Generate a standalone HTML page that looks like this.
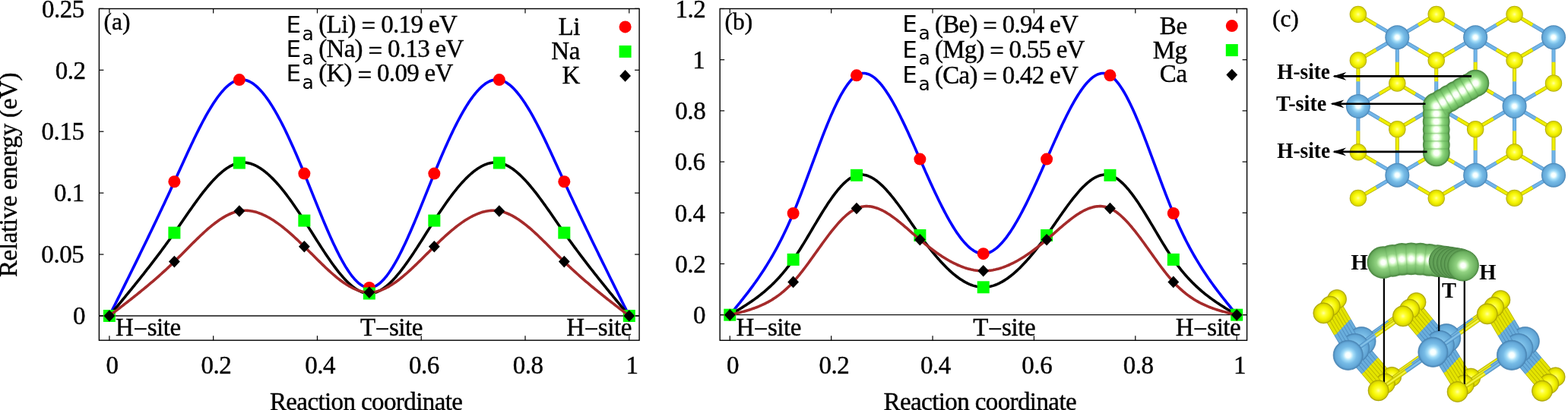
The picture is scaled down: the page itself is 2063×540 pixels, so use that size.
<!DOCTYPE html>
<html><head><meta charset="utf-8"><title>Energy barriers</title>
<style>html,body{margin:0;padding:0;background:#fff;overflow:hidden}svg{display:block}text{stroke:#000;stroke-width:0.4px}text[font-weight=bold],text[font-family*=DejaVu]{stroke-width:0}</style>
</head><body>
<svg width="2063" height="540" viewBox="0 0 2063 540">
<rect width="2063" height="540" fill="#fff"/>
<rect x="130.4" y="11.5" width="710.7" height="436.7" fill="none" stroke="#000" stroke-width="1.4"/>
<line x1="130.4" y1="416" x2="841.1" y2="416" stroke="#111" stroke-width="1.3"/>
<line x1="143.9" y1="448.2" x2="143.9" y2="442.2" stroke="#000" stroke-width="1.2"/>
<line x1="143.9" y1="11.5" x2="143.9" y2="17.5" stroke="#000" stroke-width="1.2"/>
<text x="147.6" y="491.6" font-size="33" font-family="'Liberation Serif', 'Times New Roman', serif" text-anchor="middle" letter-spacing="-0.45">0</text>
<line x1="280.68" y1="448.2" x2="280.68" y2="442.2" stroke="#000" stroke-width="1.2"/>
<line x1="280.68" y1="11.5" x2="280.68" y2="17.5" stroke="#000" stroke-width="1.2"/>
<text x="284.38" y="491.6" font-size="33" font-family="'Liberation Serif', 'Times New Roman', serif" text-anchor="middle" letter-spacing="-0.45">0.2</text>
<line x1="417.46" y1="448.2" x2="417.46" y2="442.2" stroke="#000" stroke-width="1.2"/>
<line x1="417.46" y1="11.5" x2="417.46" y2="17.5" stroke="#000" stroke-width="1.2"/>
<text x="421.16" y="491.6" font-size="33" font-family="'Liberation Serif', 'Times New Roman', serif" text-anchor="middle" letter-spacing="-0.45">0.4</text>
<line x1="554.24" y1="448.2" x2="554.24" y2="442.2" stroke="#000" stroke-width="1.2"/>
<line x1="554.24" y1="11.5" x2="554.24" y2="17.5" stroke="#000" stroke-width="1.2"/>
<text x="557.94" y="491.6" font-size="33" font-family="'Liberation Serif', 'Times New Roman', serif" text-anchor="middle" letter-spacing="-0.45">0.6</text>
<line x1="691.02" y1="448.2" x2="691.02" y2="442.2" stroke="#000" stroke-width="1.2"/>
<line x1="691.02" y1="11.5" x2="691.02" y2="17.5" stroke="#000" stroke-width="1.2"/>
<text x="694.72" y="491.6" font-size="33" font-family="'Liberation Serif', 'Times New Roman', serif" text-anchor="middle" letter-spacing="-0.45">0.8</text>
<line x1="827.8" y1="448.2" x2="827.8" y2="442.2" stroke="#000" stroke-width="1.2"/>
<line x1="827.8" y1="11.5" x2="827.8" y2="17.5" stroke="#000" stroke-width="1.2"/>
<text x="831.5" y="491.6" font-size="33" font-family="'Liberation Serif', 'Times New Roman', serif" text-anchor="middle" letter-spacing="-0.45">1</text>
<line x1="130.4" y1="416" x2="136.4" y2="416" stroke="#000" stroke-width="1.2"/>
<line x1="841.1" y1="416" x2="835.1" y2="416" stroke="#000" stroke-width="1.2"/>
<text x="112" y="427.2" font-size="33" font-family="'Liberation Serif', 'Times New Roman', serif" text-anchor="end" letter-spacing="-0.45">0</text>
<line x1="130.4" y1="335.07" x2="136.4" y2="335.07" stroke="#000" stroke-width="1.2"/>
<line x1="841.1" y1="335.07" x2="835.1" y2="335.07" stroke="#000" stroke-width="1.2"/>
<text x="110.3" y="346.27" font-size="33" font-family="'Liberation Serif', 'Times New Roman', serif" text-anchor="end" letter-spacing="-0.45">0.05</text>
<line x1="130.4" y1="254.15" x2="136.4" y2="254.15" stroke="#000" stroke-width="1.2"/>
<line x1="841.1" y1="254.15" x2="835.1" y2="254.15" stroke="#000" stroke-width="1.2"/>
<text x="110.8" y="265.35" font-size="33" font-family="'Liberation Serif', 'Times New Roman', serif" text-anchor="end" letter-spacing="-0.45">0.1</text>
<line x1="130.4" y1="173.23" x2="136.4" y2="173.23" stroke="#000" stroke-width="1.2"/>
<line x1="841.1" y1="173.23" x2="835.1" y2="173.23" stroke="#000" stroke-width="1.2"/>
<text x="110.5" y="184.43" font-size="33" font-family="'Liberation Serif', 'Times New Roman', serif" text-anchor="end" letter-spacing="-0.45">0.15</text>
<line x1="130.4" y1="92.3" x2="136.4" y2="92.3" stroke="#000" stroke-width="1.2"/>
<line x1="841.1" y1="92.3" x2="835.1" y2="92.3" stroke="#000" stroke-width="1.2"/>
<text x="112.6" y="103.5" font-size="33" font-family="'Liberation Serif', 'Times New Roman', serif" text-anchor="end" letter-spacing="-0.45">0.2</text>
<line x1="130.4" y1="11.38" x2="136.4" y2="11.38" stroke="#000" stroke-width="1.2"/>
<line x1="841.1" y1="11.38" x2="835.1" y2="11.38" stroke="#000" stroke-width="1.2"/>
<text x="110.9" y="22.57" font-size="33" font-family="'Liberation Serif', 'Times New Roman', serif" text-anchor="end" letter-spacing="-0.45">0.25</text>
<text x="152.1" y="441.8" font-size="33" font-family="'Liberation Serif', 'Times New Roman', serif" letter-spacing="-0.45">H<tspan dy="1.8">−</tspan><tspan dy="-1.8">site</tspan></text>
<text x="474" y="441.8" font-size="33" font-family="'Liberation Serif', 'Times New Roman', serif" letter-spacing="-0.45">T<tspan dy="1.8">−</tspan><tspan dy="-1.8">site</tspan></text>
<text x="745.3" y="441.8" font-size="33" font-family="'Liberation Serif', 'Times New Roman', serif" letter-spacing="-0.45">H<tspan dy="1.8">−</tspan><tspan dy="-1.8">site</tspan></text>
<text x="136.6" y="38.6" font-size="31.5" font-family="'Liberation Serif', 'Times New Roman', serif">(a)</text>
<text x="376.5" y="42.9" font-size="31" font-family="'DejaVu Sans', 'Liberation Sans', sans-serif">E</text>
<text x="397.6" y="52.7" font-size="25" font-family="'DejaVu Sans', 'Liberation Sans', sans-serif">a</text>
<text x="419.15" y="43.2" font-size="33" font-family="'Liberation Serif', 'Times New Roman', serif" textLength="182.65" lengthAdjust="spacing">(Li) <tspan dy="2.2">=</tspan><tspan dy="-2.2"> </tspan>0.19 eV</text>
<text x="376.5" y="75.1" font-size="31" font-family="'DejaVu Sans', 'Liberation Sans', sans-serif">E</text>
<text x="397.6" y="84.9" font-size="25" font-family="'DejaVu Sans', 'Liberation Sans', sans-serif">a</text>
<text x="419.15" y="75.4" font-size="33" font-family="'Liberation Serif', 'Times New Roman', serif" textLength="191.25" lengthAdjust="spacing">(Na) <tspan dy="2.2">=</tspan><tspan dy="-2.2"> </tspan>0.13 eV</text>
<text x="376.5" y="107.1" font-size="31" font-family="'DejaVu Sans', 'Liberation Sans', sans-serif">E</text>
<text x="397.6" y="116.9" font-size="25" font-family="'DejaVu Sans', 'Liberation Sans', sans-serif">a</text>
<text x="419.15" y="107.4" font-size="33" font-family="'Liberation Serif', 'Times New Roman', serif" textLength="177.25" lengthAdjust="spacing">(K) <tspan dy="2.2">=</tspan><tspan dy="-2.2"> </tspan>0.09 eV</text>
<text x="762.9" y="45.7" font-size="33" font-family="'Liberation Serif', 'Times New Roman', serif" text-anchor="end" letter-spacing="-0.45">Li</text>
<text x="762.9" y="77.9" font-size="33" font-family="'Liberation Serif', 'Times New Roman', serif" text-anchor="end" letter-spacing="-0.45">Na</text>
<text x="762.9" y="109.9" font-size="33" font-family="'Liberation Serif', 'Times New Roman', serif" text-anchor="end" letter-spacing="-0.45">K</text>
<polyline points="143.9,416 145.61,412.56 147.33,409.12 149.04,405.67 150.76,402.23 152.47,398.79 154.18,395.34 155.9,391.89 157.61,388.44 159.33,384.99 161.04,381.54 162.75,378.09 164.47,374.63 166.18,371.17 167.9,367.7 169.61,364.23 171.32,360.76 173.04,357.29 174.75,353.81 176.47,350.33 178.18,346.84 179.89,343.34 181.61,339.84 183.32,336.34 185.04,332.83 186.75,329.32 188.46,325.79 190.18,322.27 191.89,318.73 193.61,315.19 195.32,311.64 197.04,308.08 198.75,304.52 200.46,300.95 202.18,297.37 203.89,293.78 205.61,290.18 207.32,286.58 209.03,282.96 210.75,279.34 212.46,275.71 214.18,272.06 215.89,268.41 217.6,264.75 219.32,261.07 221.03,257.39 222.75,253.69 224.46,249.98 226.17,246.26 227.89,242.53 229.6,238.79 231.32,235.04 233.03,231.27 234.74,227.51 236.46,223.74 238.17,219.97 239.89,216.2 241.6,212.45 243.31,208.7 245.03,204.97 246.74,201.26 248.46,197.57 250.17,193.9 251.88,190.26 253.6,186.65 255.31,183.07 257.03,179.54 258.74,176.04 260.45,172.59 262.17,169.18 263.88,165.83 265.6,162.53 267.31,159.28 269.02,156.1 270.74,152.98 272.45,149.93 274.17,146.95 275.88,144.04 277.59,141.21 279.31,138.45 281.02,135.79 282.74,133.21 284.45,130.71 286.16,128.32 287.88,126.02 289.59,123.81 291.31,121.72 293.02,119.73 294.74,117.84 296.45,116.07 298.16,114.42 299.88,112.89 301.59,111.48 303.31,110.2 305.02,109.04 306.73,108.02 308.45,107.14 310.16,106.39 311.88,105.79 313.59,105.33 315.3,105.02 317.02,104.87 318.73,104.86 320.45,104.99 322.16,105.28 323.87,105.7 325.59,106.26 327.3,106.96 329.02,107.79 330.73,108.75 332.44,109.84 334.16,111.05 335.87,112.39 337.59,113.85 339.3,115.43 341.01,117.13 342.73,118.94 344.44,120.86 346.16,122.88 347.87,125.02 349.58,127.26 351.3,129.6 353.01,132.03 354.73,134.57 356.44,137.19 358.15,139.91 359.87,142.72 361.58,145.61 363.3,148.59 365.01,151.65 366.72,154.78 368.44,157.99 370.15,161.28 371.87,164.64 373.58,168.06 375.29,171.55 377.01,175.11 378.72,178.72 380.44,182.4 382.15,186.13 383.86,189.91 385.58,193.75 387.29,197.63 389.01,201.56 390.72,205.53 392.44,209.55 394.15,213.6 395.86,217.69 397.58,221.81 399.29,225.97 401.01,230.15 402.72,234.36 404.43,238.58 406.15,242.83 407.86,247.09 409.58,251.35 411.29,255.62 413,259.88 414.72,264.14 416.43,268.39 418.15,272.63 419.86,276.84 421.57,281.04 423.29,285.2 425,289.33 426.72,293.43 428.43,297.48 430.14,301.49 431.86,305.44 433.57,309.35 435.29,313.19 437,316.97 438.71,320.68 440.43,324.32 442.14,327.88 443.86,331.36 445.57,334.76 447.28,338.06 449,341.27 450.71,344.38 452.43,347.39 454.14,350.29 455.85,353.08 457.57,355.75 459.28,358.29 461,360.71 462.71,363.01 464.42,365.16 466.14,367.18 467.85,369.05 469.57,370.78 471.28,372.35 472.99,373.77 474.71,375.02 476.42,376.11 478.14,377.03 479.85,377.77 481.56,378.34 483.28,378.72 484.99,378.91 486.71,378.91 488.42,378.72 490.14,378.34 491.85,377.77 493.56,377.03 495.28,376.11 496.99,375.02 498.71,373.77 500.42,372.35 502.13,370.78 503.85,369.05 505.56,367.18 507.28,365.16 508.99,363.01 510.7,360.71 512.42,358.29 514.13,355.75 515.85,353.08 517.56,350.29 519.27,347.39 520.99,344.38 522.7,341.27 524.42,338.06 526.13,334.76 527.84,331.36 529.56,327.88 531.27,324.32 532.99,320.68 534.7,316.97 536.41,313.19 538.13,309.35 539.84,305.44 541.56,301.49 543.27,297.48 544.98,293.43 546.7,289.33 548.41,285.2 550.13,281.04 551.84,276.84 553.55,272.63 555.27,268.39 556.98,264.14 558.7,259.88 560.41,255.62 562.12,251.35 563.84,247.09 565.55,242.83 567.27,238.58 568.98,234.36 570.69,230.15 572.41,225.97 574.12,221.81 575.84,217.69 577.55,213.6 579.26,209.55 580.98,205.53 582.69,201.56 584.41,197.63 586.12,193.75 587.84,189.91 589.55,186.13 591.26,182.4 592.98,178.72 594.69,175.11 596.41,171.55 598.12,168.06 599.83,164.64 601.55,161.28 603.26,157.99 604.98,154.78 606.69,151.65 608.4,148.59 610.12,145.61 611.83,142.72 613.55,139.91 615.26,137.19 616.97,134.57 618.69,132.03 620.4,129.6 622.12,127.26 623.83,125.02 625.54,122.88 627.26,120.86 628.97,118.94 630.69,117.13 632.4,115.43 634.11,113.85 635.83,112.39 637.54,111.05 639.26,109.84 640.97,108.75 642.68,107.79 644.4,106.96 646.11,106.26 647.83,105.7 649.54,105.28 651.25,104.99 652.97,104.86 654.68,104.87 656.4,105.02 658.11,105.33 659.82,105.79 661.54,106.39 663.25,107.14 664.97,108.02 666.68,109.04 668.39,110.2 670.11,111.48 671.82,112.89 673.54,114.42 675.25,116.07 676.96,117.84 678.68,119.73 680.39,121.72 682.11,123.81 683.82,126.02 685.54,128.32 687.25,130.71 688.96,133.21 690.68,135.79 692.39,138.45 694.11,141.21 695.82,144.04 697.53,146.95 699.25,149.93 700.96,152.98 702.68,156.1 704.39,159.28 706.1,162.53 707.82,165.83 709.53,169.18 711.25,172.59 712.96,176.04 714.67,179.54 716.39,183.07 718.1,186.65 719.82,190.26 721.53,193.9 723.24,197.57 724.96,201.26 726.67,204.97 728.39,208.7 730.1,212.45 731.81,216.2 733.53,219.97 735.24,223.74 736.96,227.51 738.67,231.27 740.38,235.04 742.1,238.79 743.81,242.53 745.53,246.26 747.24,249.98 748.95,253.69 750.67,257.39 752.38,261.07 754.1,264.75 755.81,268.41 757.52,272.06 759.24,275.71 760.95,279.34 762.67,282.96 764.38,286.58 766.09,290.18 767.81,293.78 769.52,297.37 771.24,300.95 772.95,304.52 774.66,308.08 776.38,311.64 778.09,315.19 779.81,318.73 781.52,322.27 783.24,325.79 784.95,329.32 786.66,332.83 788.38,336.34 790.09,339.84 791.81,343.34 793.52,346.84 795.23,350.33 796.95,353.81 798.66,357.29 800.38,360.76 802.09,364.23 803.8,367.7 805.52,371.17 807.23,374.63 808.95,378.09 810.66,381.54 812.37,384.99 814.09,388.44 815.8,391.89 817.52,395.34 819.23,398.79 820.94,402.23 822.66,405.67 824.37,409.12 826.09,412.56 827.8,416" fill="none" stroke="#0000ff" stroke-width="3.6" stroke-linejoin="round" stroke-linecap="round"/>
<circle cx="143.9" cy="416" r="8" fill="#ff0000"/>
<circle cx="229.39" cy="239.26" r="8" fill="#ff0000"/>
<circle cx="314.88" cy="105.09" r="8" fill="#ff0000"/>
<circle cx="400.36" cy="228.58" r="8" fill="#ff0000"/>
<circle cx="485.85" cy="378.94" r="8" fill="#ff0000"/>
<circle cx="571.34" cy="228.58" r="8" fill="#ff0000"/>
<circle cx="656.82" cy="105.09" r="8" fill="#ff0000"/>
<circle cx="742.31" cy="239.26" r="8" fill="#ff0000"/>
<circle cx="827.8" cy="416" r="8" fill="#ff0000"/>
<circle cx="822.6" cy="35.4" r="8" fill="#ff0000"/>
<polyline points="143.9,416 145.61,413.93 147.33,411.86 149.04,409.78 150.76,407.71 152.47,405.64 154.18,403.56 155.9,401.48 157.61,399.4 159.33,397.32 161.04,395.24 162.75,393.15 164.47,391.06 166.18,388.96 167.9,386.86 169.61,384.76 171.32,382.65 173.04,380.54 174.75,378.43 176.47,376.3 178.18,374.18 179.89,372.04 181.61,369.9 183.32,367.76 185.04,365.6 186.75,363.44 188.46,361.28 190.18,359.1 191.89,356.92 193.61,354.73 195.32,352.53 197.04,350.32 198.75,348.1 200.46,345.87 202.18,343.64 203.89,341.39 205.61,339.13 207.32,336.87 209.03,334.59 210.75,332.3 212.46,330 214.18,327.68 215.89,325.36 217.6,323.02 219.32,320.67 221.03,318.31 222.75,315.93 224.46,313.54 226.17,311.14 227.89,308.72 229.6,306.28 231.32,303.84 233.03,301.38 234.74,298.91 236.46,296.43 238.17,293.95 239.89,291.47 241.6,288.98 243.31,286.5 245.03,284.02 246.74,281.55 248.46,279.09 250.17,276.63 251.88,274.19 253.6,271.77 255.31,269.37 257.03,266.98 258.74,264.62 260.45,262.28 262.17,259.97 263.88,257.69 265.6,255.44 267.31,253.22 269.02,251.04 270.74,248.9 272.45,246.8 274.17,244.75 275.88,242.74 277.59,240.78 279.31,238.86 281.02,237 282.74,235.2 284.45,233.45 286.16,231.76 287.88,230.14 289.59,228.58 291.31,227.08 293.02,225.66 294.74,224.3 296.45,223.02 298.16,221.81 299.88,220.69 301.59,219.64 303.31,218.67 305.02,217.79 306.73,217 308.45,216.3 310.16,215.69 311.88,215.17 313.59,214.75 315.3,214.43 317.02,214.2 318.73,214.08 320.45,214.05 322.16,214.12 323.87,214.28 325.59,214.54 327.3,214.88 329.02,215.32 330.73,215.84 332.44,216.44 334.16,217.13 335.87,217.9 337.59,218.75 339.3,219.68 341.01,220.69 342.73,221.77 344.44,222.92 346.16,224.15 347.87,225.45 349.58,226.82 351.3,228.25 353.01,229.75 354.73,231.31 356.44,232.94 358.15,234.62 359.87,236.37 361.58,238.17 363.3,240.02 365.01,241.94 366.72,243.9 368.44,245.91 370.15,247.97 371.87,250.08 373.58,252.24 375.29,254.44 377.01,256.68 378.72,258.96 380.44,261.28 382.15,263.64 383.86,266.03 385.58,268.46 387.29,270.92 389.01,273.41 390.72,275.93 392.44,278.48 394.15,281.05 395.86,283.65 397.58,286.27 399.29,288.91 401.01,291.57 402.72,294.24 404.43,296.93 406.15,299.63 407.86,302.34 409.58,305.06 411.29,307.78 413,310.49 414.72,313.21 416.43,315.92 418.15,318.62 419.86,321.3 421.57,323.98 423.29,326.64 425,329.27 426.72,331.88 428.43,334.47 430.14,337.03 431.86,339.56 433.57,342.05 435.29,344.5 437,346.92 438.71,349.29 440.43,351.61 442.14,353.89 443.86,356.11 445.57,358.28 447.28,360.4 449,362.45 450.71,364.44 452.43,366.36 454.14,368.21 455.85,369.99 457.57,371.7 459.28,373.33 461,374.88 462.71,376.35 464.42,377.73 466.14,379.02 467.85,380.22 469.57,381.32 471.28,382.33 472.99,383.24 474.71,384.04 476.42,384.74 478.14,385.32 479.85,385.8 481.56,386.16 483.28,386.4 484.99,386.53 486.71,386.53 488.42,386.4 490.14,386.16 491.85,385.8 493.56,385.32 495.28,384.74 496.99,384.04 498.71,383.24 500.42,382.33 502.13,381.32 503.85,380.22 505.56,379.02 507.28,377.73 508.99,376.35 510.7,374.88 512.42,373.33 514.13,371.7 515.85,369.99 517.56,368.21 519.27,366.36 520.99,364.44 522.7,362.45 524.42,360.4 526.13,358.28 527.84,356.11 529.56,353.89 531.27,351.61 532.99,349.29 534.7,346.92 536.41,344.5 538.13,342.05 539.84,339.56 541.56,337.03 543.27,334.47 544.98,331.88 546.7,329.27 548.41,326.64 550.13,323.98 551.84,321.3 553.55,318.62 555.27,315.92 556.98,313.21 558.7,310.49 560.41,307.78 562.12,305.06 563.84,302.34 565.55,299.63 567.27,296.93 568.98,294.24 570.69,291.57 572.41,288.91 574.12,286.27 575.84,283.65 577.55,281.05 579.26,278.48 580.98,275.93 582.69,273.41 584.41,270.92 586.12,268.46 587.84,266.03 589.55,263.64 591.26,261.28 592.98,258.96 594.69,256.68 596.41,254.44 598.12,252.24 599.83,250.08 601.55,247.97 603.26,245.91 604.98,243.9 606.69,241.94 608.4,240.02 610.12,238.17 611.83,236.37 613.55,234.62 615.26,232.94 616.97,231.31 618.69,229.75 620.4,228.25 622.12,226.82 623.83,225.45 625.54,224.15 627.26,222.92 628.97,221.77 630.69,220.69 632.4,219.68 634.11,218.75 635.83,217.9 637.54,217.13 639.26,216.44 640.97,215.84 642.68,215.32 644.4,214.88 646.11,214.54 647.83,214.28 649.54,214.12 651.25,214.05 652.97,214.08 654.68,214.2 656.4,214.43 658.11,214.75 659.82,215.17 661.54,215.69 663.25,216.3 664.97,217 666.68,217.79 668.39,218.67 670.11,219.64 671.82,220.69 673.54,221.81 675.25,223.02 676.96,224.3 678.68,225.66 680.39,227.08 682.11,228.58 683.82,230.14 685.54,231.76 687.25,233.45 688.96,235.2 690.68,237 692.39,238.86 694.11,240.78 695.82,242.74 697.53,244.75 699.25,246.8 700.96,248.9 702.68,251.04 704.39,253.22 706.1,255.44 707.82,257.69 709.53,259.97 711.25,262.28 712.96,264.62 714.67,266.98 716.39,269.37 718.1,271.77 719.82,274.19 721.53,276.63 723.24,279.09 724.96,281.55 726.67,284.02 728.39,286.5 730.1,288.98 731.81,291.47 733.53,293.95 735.24,296.43 736.96,298.91 738.67,301.38 740.38,303.84 742.1,306.28 743.81,308.72 745.53,311.14 747.24,313.54 748.95,315.93 750.67,318.31 752.38,320.67 754.1,323.02 755.81,325.36 757.52,327.68 759.24,330 760.95,332.3 762.67,334.59 764.38,336.87 766.09,339.13 767.81,341.39 769.52,343.64 771.24,345.87 772.95,348.1 774.66,350.32 776.38,352.53 778.09,354.73 779.81,356.92 781.52,359.1 783.24,361.28 784.95,363.44 786.66,365.6 788.38,367.76 790.09,369.9 791.81,372.04 793.52,374.18 795.23,376.3 796.95,378.43 798.66,380.54 800.38,382.65 802.09,384.76 803.8,386.86 805.52,388.96 807.23,391.06 808.95,393.15 810.66,395.24 812.37,397.32 814.09,399.4 815.8,401.48 817.52,403.56 819.23,405.64 820.94,407.71 822.66,409.78 824.37,411.86 826.09,413.93 827.8,416" fill="none" stroke="#000000" stroke-width="3.6" stroke-linejoin="round" stroke-linecap="round"/>
<rect x="135.9" y="408" width="16" height="16" fill="#00ff00"/>
<rect x="221.39" y="298.59" width="16" height="16" fill="#00ff00"/>
<rect x="306.88" y="206.5" width="16" height="16" fill="#00ff00"/>
<rect x="392.36" y="282.57" width="16" height="16" fill="#00ff00"/>
<rect x="477.85" y="378.54" width="16" height="16" fill="#00ff00"/>
<rect x="563.34" y="282.57" width="16" height="16" fill="#00ff00"/>
<rect x="648.82" y="206.5" width="16" height="16" fill="#00ff00"/>
<rect x="734.31" y="298.59" width="16" height="16" fill="#00ff00"/>
<rect x="819.8" y="408" width="16" height="16" fill="#00ff00"/>
<rect x="814.6" y="59.9" width="16" height="16" fill="#00ff00"/>
<polyline points="143.9,416 145.61,414.69 147.33,413.38 149.04,412.07 150.76,410.76 152.47,409.44 154.18,408.13 155.9,406.81 157.61,405.49 159.33,404.17 161.04,402.85 162.75,401.52 164.47,400.19 166.18,398.86 167.9,397.52 169.61,396.18 171.32,394.84 173.04,393.49 174.75,392.13 176.47,390.77 178.18,389.41 179.89,388.03 181.61,386.66 183.32,385.27 185.04,383.88 186.75,382.48 188.46,381.08 190.18,379.67 191.89,378.25 193.61,376.82 195.32,375.38 197.04,373.93 198.75,372.48 200.46,371.02 202.18,369.54 203.89,368.06 205.61,366.56 207.32,365.06 209.03,363.54 210.75,362.02 212.46,360.48 214.18,358.93 215.89,357.37 217.6,355.8 219.32,354.21 221.03,352.61 222.75,351 224.46,349.37 226.17,347.74 227.89,346.08 229.6,344.41 231.32,342.73 233.03,341.04 234.74,339.33 236.46,337.62 238.17,335.9 239.89,334.17 241.6,332.44 243.31,330.7 245.03,328.97 246.74,327.23 248.46,325.5 250.17,323.77 251.88,322.05 253.6,320.34 255.31,318.63 257.03,316.94 258.74,315.26 260.45,313.59 262.17,311.94 263.88,310.3 265.6,308.69 267.31,307.1 269.02,305.53 270.74,303.98 272.45,302.46 274.17,300.97 275.88,299.5 277.59,298.07 279.31,296.67 281.02,295.31 282.74,293.98 284.45,292.69 286.16,291.44 287.88,290.23 289.59,289.07 291.31,287.94 293.02,286.87 294.74,285.84 296.45,284.86 298.16,283.94 299.88,283.06 301.59,282.24 303.31,281.48 305.02,280.78 306.73,280.13 308.45,279.55 310.16,279.03 311.88,278.58 313.59,278.19 315.3,277.87 317.02,277.62 318.73,277.43 320.45,277.32 322.16,277.27 323.87,277.28 325.59,277.36 327.3,277.5 329.02,277.7 330.73,277.96 332.44,278.27 334.16,278.65 335.87,279.08 337.59,279.57 339.3,280.11 341.01,280.7 342.73,281.34 344.44,282.04 346.16,282.78 347.87,283.57 349.58,284.41 351.3,285.29 353.01,286.22 354.73,287.19 356.44,288.2 358.15,289.26 359.87,290.35 361.58,291.48 363.3,292.65 365.01,293.85 366.72,295.09 368.44,296.37 370.15,297.67 371.87,299.01 373.58,300.37 375.29,301.77 377.01,303.19 378.72,304.64 380.44,306.11 382.15,307.61 383.86,309.13 385.58,310.68 387.29,312.24 389.01,313.82 390.72,315.43 392.44,317.04 394.15,318.68 395.86,320.33 397.58,321.99 399.29,323.66 401.01,325.35 402.72,327.05 404.43,328.75 406.15,330.46 407.86,332.17 409.58,333.89 411.29,335.6 413,337.32 414.72,339.03 416.43,340.74 418.15,342.44 419.86,344.14 421.57,345.82 423.29,347.5 425,349.16 426.72,350.8 428.43,352.43 430.14,354.04 431.86,355.63 433.57,357.19 435.29,358.73 437,360.25 438.71,361.74 440.43,363.2 442.14,364.63 443.86,366.03 445.57,367.39 447.28,368.71 449,370 450.71,371.25 452.43,372.45 454.14,373.61 455.85,374.73 457.57,375.8 459.28,376.82 461,377.79 462.71,378.71 464.42,379.57 466.14,380.38 467.85,381.13 469.57,381.82 471.28,382.45 472.99,383.02 474.71,383.52 476.42,383.96 478.14,384.32 479.85,384.62 481.56,384.85 483.28,385 484.99,385.08 486.71,385.08 488.42,385 490.14,384.85 491.85,384.62 493.56,384.32 495.28,383.96 496.99,383.52 498.71,383.02 500.42,382.45 502.13,381.82 503.85,381.13 505.56,380.38 507.28,379.57 508.99,378.71 510.7,377.79 512.42,376.82 514.13,375.8 515.85,374.73 517.56,373.61 519.27,372.45 520.99,371.25 522.7,370 524.42,368.71 526.13,367.39 527.84,366.03 529.56,364.63 531.27,363.2 532.99,361.74 534.7,360.25 536.41,358.73 538.13,357.19 539.84,355.63 541.56,354.04 543.27,352.43 544.98,350.8 546.7,349.16 548.41,347.5 550.13,345.82 551.84,344.14 553.55,342.44 555.27,340.74 556.98,339.03 558.7,337.32 560.41,335.6 562.12,333.89 563.84,332.17 565.55,330.46 567.27,328.75 568.98,327.05 570.69,325.35 572.41,323.66 574.12,321.99 575.84,320.33 577.55,318.68 579.26,317.04 580.98,315.43 582.69,313.82 584.41,312.24 586.12,310.68 587.84,309.13 589.55,307.61 591.26,306.11 592.98,304.64 594.69,303.19 596.41,301.77 598.12,300.37 599.83,299.01 601.55,297.67 603.26,296.37 604.98,295.09 606.69,293.85 608.4,292.65 610.12,291.48 611.83,290.35 613.55,289.26 615.26,288.2 616.97,287.19 618.69,286.22 620.4,285.29 622.12,284.41 623.83,283.57 625.54,282.78 627.26,282.04 628.97,281.34 630.69,280.7 632.4,280.11 634.11,279.57 635.83,279.08 637.54,278.65 639.26,278.27 640.97,277.96 642.68,277.7 644.4,277.5 646.11,277.36 647.83,277.28 649.54,277.27 651.25,277.32 652.97,277.43 654.68,277.62 656.4,277.87 658.11,278.19 659.82,278.58 661.54,279.03 663.25,279.55 664.97,280.13 666.68,280.78 668.39,281.48 670.11,282.24 671.82,283.06 673.54,283.94 675.25,284.86 676.96,285.84 678.68,286.87 680.39,287.94 682.11,289.07 683.82,290.23 685.54,291.44 687.25,292.69 688.96,293.98 690.68,295.31 692.39,296.67 694.11,298.07 695.82,299.5 697.53,300.97 699.25,302.46 700.96,303.98 702.68,305.53 704.39,307.1 706.1,308.69 707.82,310.3 709.53,311.94 711.25,313.59 712.96,315.26 714.67,316.94 716.39,318.63 718.1,320.34 719.82,322.05 721.53,323.77 723.24,325.5 724.96,327.23 726.67,328.97 728.39,330.7 730.1,332.44 731.81,334.17 733.53,335.9 735.24,337.62 736.96,339.33 738.67,341.04 740.38,342.73 742.1,344.41 743.81,346.08 745.53,347.74 747.24,349.37 748.95,351 750.67,352.61 752.38,354.21 754.1,355.8 755.81,357.37 757.52,358.93 759.24,360.48 760.95,362.02 762.67,363.54 764.38,365.06 766.09,366.56 767.81,368.06 769.52,369.54 771.24,371.02 772.95,372.48 774.66,373.93 776.38,375.38 778.09,376.82 779.81,378.25 781.52,379.67 783.24,381.08 784.95,382.48 786.66,383.88 788.38,385.27 790.09,386.66 791.81,388.03 793.52,389.41 795.23,390.77 796.95,392.13 798.66,393.49 800.38,394.84 802.09,396.18 803.8,397.52 805.52,398.86 807.23,400.19 808.95,401.52 810.66,402.85 812.37,404.17 814.09,405.49 815.8,406.81 817.52,408.13 819.23,409.44 820.94,410.76 822.66,412.07 824.37,413.38 826.09,414.69 827.8,416" fill="none" stroke="#a52a2a" stroke-width="3.6" stroke-linejoin="round" stroke-linecap="round"/>
<path d="M136.5,416L143.9,408.2L151.3,416L143.9,423.8Z" fill="#000"/>
<path d="M221.99,344.62L229.39,336.82L236.79,344.62L229.39,352.42Z" fill="#000"/>
<path d="M307.48,277.94L314.88,270.14L322.27,277.94L314.88,285.74Z" fill="#000"/>
<path d="M392.96,324.72L400.36,316.92L407.76,324.72L400.36,332.52Z" fill="#000"/>
<path d="M478.45,385.09L485.85,377.29L493.25,385.09L485.85,392.89Z" fill="#000"/>
<path d="M563.94,324.72L571.34,316.92L578.74,324.72L571.34,332.52Z" fill="#000"/>
<path d="M649.42,277.94L656.82,270.14L664.22,277.94L656.82,285.74Z" fill="#000"/>
<path d="M734.91,344.62L742.31,336.82L749.71,344.62L742.31,352.42Z" fill="#000"/>
<path d="M820.4,416L827.8,408.2L835.2,416L827.8,423.8Z" fill="#000"/>
<path d="M815.2,99.9L822.6,92.1L830,99.9L822.6,107.7Z" fill="#000"/>
<text x="354.9" y="539.6" font-size="33" font-family="'Liberation Serif', 'Times New Roman', serif" textLength="254" lengthAdjust="spacing">Reaction coordinate</text>
<rect x="947.2" y="11.5" width="693.4" height="436.8" fill="none" stroke="#000" stroke-width="1.4"/>
<line x1="947.2" y1="414.7" x2="1640.6" y2="414.7" stroke="#111" stroke-width="1.3"/>
<line x1="960.3" y1="448.3" x2="960.3" y2="442.3" stroke="#000" stroke-width="1.2"/>
<line x1="960.3" y1="11.5" x2="960.3" y2="17.5" stroke="#000" stroke-width="1.2"/>
<text x="964.1" y="491.6" font-size="33" font-family="'Liberation Serif', 'Times New Roman', serif" text-anchor="middle" letter-spacing="-0.45">0</text>
<line x1="1093.68" y1="448.3" x2="1093.68" y2="442.3" stroke="#000" stroke-width="1.2"/>
<line x1="1093.68" y1="11.5" x2="1093.68" y2="17.5" stroke="#000" stroke-width="1.2"/>
<text x="1097.48" y="491.6" font-size="33" font-family="'Liberation Serif', 'Times New Roman', serif" text-anchor="middle" letter-spacing="-0.45">0.2</text>
<line x1="1227.06" y1="448.3" x2="1227.06" y2="442.3" stroke="#000" stroke-width="1.2"/>
<line x1="1227.06" y1="11.5" x2="1227.06" y2="17.5" stroke="#000" stroke-width="1.2"/>
<text x="1230.86" y="491.6" font-size="33" font-family="'Liberation Serif', 'Times New Roman', serif" text-anchor="middle" letter-spacing="-0.45">0.4</text>
<line x1="1360.44" y1="448.3" x2="1360.44" y2="442.3" stroke="#000" stroke-width="1.2"/>
<line x1="1360.44" y1="11.5" x2="1360.44" y2="17.5" stroke="#000" stroke-width="1.2"/>
<text x="1364.24" y="491.6" font-size="33" font-family="'Liberation Serif', 'Times New Roman', serif" text-anchor="middle" letter-spacing="-0.45">0.6</text>
<line x1="1493.82" y1="448.3" x2="1493.82" y2="442.3" stroke="#000" stroke-width="1.2"/>
<line x1="1493.82" y1="11.5" x2="1493.82" y2="17.5" stroke="#000" stroke-width="1.2"/>
<text x="1497.62" y="491.6" font-size="33" font-family="'Liberation Serif', 'Times New Roman', serif" text-anchor="middle" letter-spacing="-0.45">0.8</text>
<line x1="1627.2" y1="448.3" x2="1627.2" y2="442.3" stroke="#000" stroke-width="1.2"/>
<line x1="1627.2" y1="11.5" x2="1627.2" y2="17.5" stroke="#000" stroke-width="1.2"/>
<text x="1631" y="491.6" font-size="33" font-family="'Liberation Serif', 'Times New Roman', serif" text-anchor="middle" letter-spacing="-0.45">1</text>
<line x1="947.2" y1="414.7" x2="953.2" y2="414.7" stroke="#000" stroke-width="1.2"/>
<line x1="1640.6" y1="414.7" x2="1634.6" y2="414.7" stroke="#000" stroke-width="1.2"/>
<text x="928.1" y="425.9" font-size="33" font-family="'Liberation Serif', 'Times New Roman', serif" text-anchor="end" letter-spacing="-0.45">0</text>
<line x1="947.2" y1="347.5" x2="953.2" y2="347.5" stroke="#000" stroke-width="1.2"/>
<line x1="1640.6" y1="347.5" x2="1634.6" y2="347.5" stroke="#000" stroke-width="1.2"/>
<text x="928.2" y="358.7" font-size="33" font-family="'Liberation Serif', 'Times New Roman', serif" text-anchor="end" letter-spacing="-0.45">0.2</text>
<line x1="947.2" y1="280.3" x2="953.2" y2="280.3" stroke="#000" stroke-width="1.2"/>
<line x1="1640.6" y1="280.3" x2="1634.6" y2="280.3" stroke="#000" stroke-width="1.2"/>
<text x="927.6" y="291.5" font-size="33" font-family="'Liberation Serif', 'Times New Roman', serif" text-anchor="end" letter-spacing="-0.45">0.4</text>
<line x1="947.2" y1="213.1" x2="953.2" y2="213.1" stroke="#000" stroke-width="1.2"/>
<line x1="1640.6" y1="213.1" x2="1634.6" y2="213.1" stroke="#000" stroke-width="1.2"/>
<text x="927.6" y="224.3" font-size="33" font-family="'Liberation Serif', 'Times New Roman', serif" text-anchor="end" letter-spacing="-0.45">0.6</text>
<line x1="947.2" y1="145.9" x2="953.2" y2="145.9" stroke="#000" stroke-width="1.2"/>
<line x1="1640.6" y1="145.9" x2="1634.6" y2="145.9" stroke="#000" stroke-width="1.2"/>
<text x="928.2" y="157.1" font-size="33" font-family="'Liberation Serif', 'Times New Roman', serif" text-anchor="end" letter-spacing="-0.45">0.8</text>
<line x1="947.2" y1="78.7" x2="953.2" y2="78.7" stroke="#000" stroke-width="1.2"/>
<line x1="1640.6" y1="78.7" x2="1634.6" y2="78.7" stroke="#000" stroke-width="1.2"/>
<text x="927.2" y="89.9" font-size="33" font-family="'Liberation Serif', 'Times New Roman', serif" text-anchor="end" letter-spacing="-0.45">1</text>
<line x1="947.2" y1="11.5" x2="953.2" y2="11.5" stroke="#000" stroke-width="1.2"/>
<line x1="1640.6" y1="11.5" x2="1634.6" y2="11.5" stroke="#000" stroke-width="1.2"/>
<text x="928.4" y="22.7" font-size="33" font-family="'Liberation Serif', 'Times New Roman', serif" text-anchor="end" letter-spacing="-0.45">1.2</text>
<text x="968.4" y="441.8" font-size="33" font-family="'Liberation Serif', 'Times New Roman', serif" letter-spacing="-0.45">H<tspan dy="1.8">−</tspan><tspan dy="-1.8">site</tspan></text>
<text x="1280.2" y="441.8" font-size="33" font-family="'Liberation Serif', 'Times New Roman', serif" letter-spacing="-0.45">T<tspan dy="1.8">−</tspan><tspan dy="-1.8">site</tspan></text>
<text x="1546.7" y="441.8" font-size="33" font-family="'Liberation Serif', 'Times New Roman', serif" letter-spacing="-0.45">H<tspan dy="1.8">−</tspan><tspan dy="-1.8">site</tspan></text>
<text x="953.6" y="38.6" font-size="31.5" font-family="'Liberation Serif', 'Times New Roman', serif">(b)</text>
<text x="1187.3" y="42.2" font-size="31" font-family="'DejaVu Sans', 'Liberation Sans', sans-serif">E</text>
<text x="1208.4" y="52" font-size="25" font-family="'DejaVu Sans', 'Liberation Sans', sans-serif">a</text>
<text x="1229.95" y="42.5" font-size="33" font-family="'Liberation Serif', 'Times New Roman', serif" textLength="188.95" lengthAdjust="spacing">(Be) <tspan dy="2.2">=</tspan><tspan dy="-2.2"> </tspan>0.94 eV</text>
<text x="1187.3" y="75.6" font-size="31" font-family="'DejaVu Sans', 'Liberation Sans', sans-serif">E</text>
<text x="1208.4" y="85.4" font-size="25" font-family="'DejaVu Sans', 'Liberation Sans', sans-serif">a</text>
<text x="1229.95" y="75.9" font-size="33" font-family="'Liberation Serif', 'Times New Roman', serif" textLength="197.45" lengthAdjust="spacing">(Mg) <tspan dy="2.2">=</tspan><tspan dy="-2.2"> </tspan>0.55 eV</text>
<text x="1187.3" y="109.4" font-size="31" font-family="'DejaVu Sans', 'Liberation Sans', sans-serif">E</text>
<text x="1208.4" y="119.2" font-size="25" font-family="'DejaVu Sans', 'Liberation Sans', sans-serif">a</text>
<text x="1229.95" y="109.7" font-size="33" font-family="'Liberation Serif', 'Times New Roman', serif" textLength="188.95" lengthAdjust="spacing">(Ca) <tspan dy="2.2">=</tspan><tspan dy="-2.2"> </tspan>0.42 eV</text>
<text x="1561.6" y="44.7" font-size="33" font-family="'Liberation Serif', 'Times New Roman', serif" text-anchor="end" letter-spacing="-0.45">Be</text>
<text x="1561.6" y="76.6" font-size="33" font-family="'Liberation Serif', 'Times New Roman', serif" text-anchor="end" letter-spacing="-0.45">Mg</text>
<text x="1561.6" y="108.4" font-size="33" font-family="'Liberation Serif', 'Times New Roman', serif" text-anchor="end" letter-spacing="-0.45">Ca</text>
<polyline points="960.3,414.7 961.97,412.67 963.64,410.63 965.31,408.59 966.99,406.55 968.66,404.5 970.33,402.45 972,400.38 973.67,398.3 975.34,396.22 977.01,394.11 978.69,391.99 980.36,389.86 982.03,387.7 983.7,385.53 985.37,383.33 987.04,381.11 988.71,378.86 990.39,376.59 992.06,374.29 993.73,371.96 995.4,369.6 997.07,367.2 998.74,364.77 1000.41,362.31 1002.09,359.81 1003.76,357.27 1005.43,354.68 1007.1,352.06 1008.77,349.39 1010.44,346.68 1012.11,343.92 1013.79,341.11 1015.46,338.25 1017.13,335.34 1018.8,332.38 1020.47,329.36 1022.14,326.28 1023.81,323.15 1025.49,319.96 1027.16,316.7 1028.83,313.39 1030.5,310.01 1032.17,306.56 1033.84,303.05 1035.51,299.47 1037.19,295.82 1038.86,292.09 1040.53,288.3 1042.2,284.42 1043.87,280.47 1045.54,276.45 1047.21,272.35 1048.89,268.19 1050.56,263.96 1052.23,259.68 1053.9,255.35 1055.57,250.98 1057.24,246.57 1058.91,242.12 1060.59,237.65 1062.26,233.15 1063.93,228.64 1065.6,224.11 1067.27,219.58 1068.94,215.05 1070.61,210.52 1072.29,206.01 1073.96,201.51 1075.63,197.04 1077.3,192.59 1078.97,188.17 1080.64,183.79 1082.31,179.46 1083.99,175.17 1085.66,170.94 1087.33,166.77 1089,162.66 1090.67,158.63 1092.34,154.67 1094.01,150.8 1095.69,147.01 1097.36,143.32 1099.03,139.72 1100.7,136.23 1102.37,132.85 1104.04,129.58 1105.71,126.44 1107.39,123.42 1109.06,120.53 1110.73,117.78 1112.4,115.18 1114.07,112.72 1115.74,110.41 1117.41,108.27 1119.09,106.29 1120.76,104.48 1122.43,102.84 1124.1,101.39 1125.77,100.12 1127.44,99.05 1129.11,98.17 1130.79,97.48 1132.46,96.98 1134.13,96.66 1135.8,96.52 1137.47,96.56 1139.14,96.77 1140.81,97.14 1142.49,97.68 1144.16,98.38 1145.83,99.24 1147.5,100.24 1149.17,101.39 1150.84,102.69 1152.51,104.12 1154.19,105.7 1155.86,107.4 1157.53,109.23 1159.2,111.18 1160.87,113.25 1162.54,115.44 1164.21,117.74 1165.89,120.14 1167.56,122.65 1169.23,125.26 1170.9,127.96 1172.57,130.76 1174.24,133.64 1175.91,136.61 1177.59,139.65 1179.26,142.77 1180.93,145.96 1182.6,149.22 1184.27,152.54 1185.94,155.93 1187.61,159.36 1189.29,162.85 1190.96,166.38 1192.63,169.96 1194.3,173.58 1195.97,177.23 1197.64,180.92 1199.31,184.63 1200.99,188.36 1202.66,192.11 1204.33,195.88 1206,199.66 1207.67,203.45 1209.34,207.24 1211.01,211.03 1212.69,214.81 1214.36,218.59 1216.03,222.35 1217.7,226.11 1219.37,229.85 1221.04,233.57 1222.71,237.26 1224.39,240.93 1226.06,244.58 1227.73,248.19 1229.4,251.77 1231.07,255.32 1232.74,258.82 1234.41,262.28 1236.09,265.7 1237.76,269.07 1239.43,272.38 1241.1,275.65 1242.77,278.85 1244.44,282 1246.11,285.09 1247.79,288.1 1249.46,291.05 1251.13,293.93 1252.8,296.74 1254.47,299.47 1256.14,302.11 1257.81,304.68 1259.49,307.15 1261.16,309.54 1262.83,311.84 1264.5,314.04 1266.17,316.15 1267.84,318.15 1269.51,320.05 1271.19,321.85 1272.86,323.53 1274.53,325.11 1276.2,326.57 1277.87,327.91 1279.54,329.12 1281.21,330.22 1282.89,331.19 1284.56,332.03 1286.23,332.73 1287.9,333.31 1289.57,333.74 1291.24,334.03 1292.91,334.18 1294.59,334.18 1296.26,334.03 1297.93,333.74 1299.6,333.31 1301.27,332.73 1302.94,332.03 1304.61,331.19 1306.29,330.22 1307.96,329.12 1309.63,327.91 1311.3,326.57 1312.97,325.11 1314.64,323.53 1316.31,321.85 1317.99,320.05 1319.66,318.15 1321.33,316.15 1323,314.04 1324.67,311.84 1326.34,309.54 1328.01,307.15 1329.69,304.68 1331.36,302.11 1333.03,299.47 1334.7,296.74 1336.37,293.93 1338.04,291.05 1339.71,288.1 1341.39,285.09 1343.06,282 1344.73,278.85 1346.4,275.65 1348.07,272.38 1349.74,269.07 1351.41,265.7 1353.09,262.28 1354.76,258.82 1356.43,255.32 1358.1,251.77 1359.77,248.19 1361.44,244.58 1363.11,240.93 1364.79,237.26 1366.46,233.57 1368.13,229.85 1369.8,226.11 1371.47,222.35 1373.14,218.59 1374.81,214.81 1376.49,211.03 1378.16,207.24 1379.83,203.45 1381.5,199.66 1383.17,195.88 1384.84,192.11 1386.51,188.36 1388.19,184.63 1389.86,180.92 1391.53,177.23 1393.2,173.58 1394.87,169.96 1396.54,166.38 1398.21,162.85 1399.89,159.36 1401.56,155.93 1403.23,152.54 1404.9,149.22 1406.57,145.96 1408.24,142.77 1409.91,139.65 1411.59,136.61 1413.26,133.64 1414.93,130.76 1416.6,127.96 1418.27,125.26 1419.94,122.65 1421.61,120.14 1423.29,117.74 1424.96,115.44 1426.63,113.25 1428.3,111.18 1429.97,109.23 1431.64,107.4 1433.31,105.7 1434.99,104.12 1436.66,102.69 1438.33,101.39 1440,100.24 1441.67,99.24 1443.34,98.38 1445.01,97.68 1446.69,97.14 1448.36,96.77 1450.03,96.56 1451.7,96.52 1453.37,96.66 1455.04,96.98 1456.71,97.48 1458.39,98.17 1460.06,99.05 1461.73,100.12 1463.4,101.39 1465.07,102.84 1466.74,104.48 1468.41,106.29 1470.09,108.27 1471.76,110.41 1473.43,112.72 1475.1,115.18 1476.77,117.78 1478.44,120.53 1480.11,123.42 1481.79,126.44 1483.46,129.58 1485.13,132.85 1486.8,136.23 1488.47,139.72 1490.14,143.32 1491.81,147.01 1493.49,150.8 1495.16,154.67 1496.83,158.63 1498.5,162.66 1500.17,166.77 1501.84,170.94 1503.51,175.17 1505.19,179.46 1506.86,183.79 1508.53,188.17 1510.2,192.59 1511.87,197.04 1513.54,201.51 1515.21,206.01 1516.89,210.52 1518.56,215.05 1520.23,219.58 1521.9,224.11 1523.57,228.64 1525.24,233.15 1526.91,237.65 1528.59,242.12 1530.26,246.57 1531.93,250.98 1533.6,255.35 1535.27,259.68 1536.94,263.96 1538.61,268.19 1540.29,272.35 1541.96,276.45 1543.63,280.47 1545.3,284.42 1546.97,288.3 1548.64,292.09 1550.31,295.82 1551.99,299.47 1553.66,303.05 1555.33,306.56 1557,310.01 1558.67,313.39 1560.34,316.7 1562.01,319.96 1563.69,323.15 1565.36,326.28 1567.03,329.36 1568.7,332.38 1570.37,335.34 1572.04,338.25 1573.71,341.11 1575.39,343.92 1577.06,346.68 1578.73,349.39 1580.4,352.06 1582.07,354.68 1583.74,357.27 1585.41,359.81 1587.09,362.31 1588.76,364.77 1590.43,367.2 1592.1,369.6 1593.77,371.96 1595.44,374.29 1597.11,376.59 1598.79,378.86 1600.46,381.11 1602.13,383.33 1603.8,385.53 1605.47,387.7 1607.14,389.86 1608.81,391.99 1610.49,394.11 1612.16,396.22 1613.83,398.3 1615.5,400.38 1617.17,402.45 1618.84,404.5 1620.51,406.55 1622.19,408.59 1623.86,410.63 1625.53,412.67 1627.2,414.7" fill="none" stroke="#0000ff" stroke-width="3.6" stroke-linejoin="round" stroke-linecap="round"/>
<circle cx="960.3" cy="414.7" r="8" fill="#ff0000"/>
<circle cx="1043.66" cy="280.97" r="8" fill="#ff0000"/>
<circle cx="1127.02" cy="99.3" r="8" fill="#ff0000"/>
<circle cx="1210.39" cy="209.61" r="8" fill="#ff0000"/>
<circle cx="1293.75" cy="334.19" r="8" fill="#ff0000"/>
<circle cx="1377.11" cy="209.61" r="8" fill="#ff0000"/>
<circle cx="1460.47" cy="99.3" r="8" fill="#ff0000"/>
<circle cx="1543.84" cy="280.97" r="8" fill="#ff0000"/>
<circle cx="1627.2" cy="414.7" r="8" fill="#ff0000"/>
<circle cx="1620.8" cy="34.1" r="8" fill="#ff0000"/>
<polyline points="960.3,414.7 961.97,413.71 963.64,412.72 965.31,411.73 966.99,410.73 968.66,409.73 970.33,408.73 972,407.72 973.67,406.69 975.34,405.67 977.01,404.63 978.69,403.57 980.36,402.51 982.03,401.43 983.7,400.34 985.37,399.23 987.04,398.11 988.71,396.96 990.39,395.8 992.06,394.62 993.73,393.41 995.4,392.19 997.07,390.94 998.74,389.66 1000.41,388.36 1002.09,387.03 1003.76,385.67 1005.43,384.28 1007.1,382.86 1008.77,381.41 1010.44,379.93 1012.11,378.41 1013.79,376.86 1015.46,375.27 1017.13,373.64 1018.8,371.98 1020.47,370.27 1022.14,368.53 1023.81,366.74 1025.49,364.91 1027.16,363.03 1028.83,361.11 1030.5,359.14 1032.17,357.13 1033.84,355.06 1035.51,352.95 1037.19,350.78 1038.86,348.57 1040.53,346.3 1042.2,343.97 1043.87,341.59 1045.54,339.15 1047.21,336.66 1048.89,334.12 1050.56,331.54 1052.23,328.92 1053.9,326.26 1055.57,323.56 1057.24,320.84 1058.91,318.09 1060.59,315.32 1062.26,312.53 1063.93,309.73 1065.6,306.91 1067.27,304.1 1068.94,301.27 1070.61,298.45 1072.29,295.64 1073.96,292.83 1075.63,290.04 1077.3,287.26 1078.97,284.5 1080.64,281.77 1082.31,279.07 1083.99,276.4 1085.66,273.76 1087.33,271.16 1089,268.61 1090.67,266.1 1092.34,263.65 1094.01,261.25 1095.69,258.91 1097.36,256.63 1099.03,254.42 1100.7,252.28 1102.37,250.21 1104.04,248.22 1105.71,246.31 1107.39,244.49 1109.06,242.76 1110.73,241.12 1112.4,239.57 1114.07,238.13 1115.74,236.8 1117.41,235.57 1119.09,234.45 1120.76,233.45 1122.43,232.57 1124.1,231.82 1125.77,231.19 1127.44,230.7 1129.11,230.33 1130.79,230.1 1132.46,230 1134.13,230.02 1135.8,230.16 1137.47,230.42 1139.14,230.79 1140.81,231.28 1142.49,231.87 1144.16,232.57 1145.83,233.37 1147.5,234.27 1149.17,235.27 1150.84,236.36 1152.51,237.54 1154.19,238.81 1155.86,240.16 1157.53,241.58 1159.2,243.09 1160.87,244.67 1162.54,246.32 1164.21,248.04 1165.89,249.83 1167.56,251.67 1169.23,253.57 1170.9,255.53 1172.57,257.54 1174.24,259.6 1175.91,261.71 1177.59,263.85 1179.26,266.04 1180.93,268.26 1182.6,270.52 1184.27,272.8 1185.94,275.12 1187.61,277.45 1189.29,279.81 1190.96,282.18 1192.63,284.57 1194.3,286.97 1195.97,289.38 1197.64,291.79 1199.31,294.2 1200.99,296.61 1202.66,299.02 1204.33,301.42 1206,303.81 1207.67,306.18 1209.34,308.54 1211.01,310.88 1212.69,313.19 1214.36,315.48 1216.03,317.74 1217.7,319.98 1219.37,322.2 1221.04,324.38 1222.71,326.54 1224.39,328.67 1226.06,330.76 1227.73,332.83 1229.4,334.86 1231.07,336.86 1232.74,338.82 1234.41,340.75 1236.09,342.64 1237.76,344.5 1239.43,346.31 1241.1,348.09 1242.77,349.83 1244.44,351.52 1246.11,353.18 1247.79,354.79 1249.46,356.35 1251.13,357.87 1252.8,359.34 1254.47,360.77 1256.14,362.15 1257.81,363.48 1259.49,364.76 1261.16,365.99 1262.83,367.16 1264.5,368.28 1266.17,369.35 1267.84,370.37 1269.51,371.33 1271.19,372.23 1272.86,373.07 1274.53,373.85 1276.2,374.58 1277.87,375.24 1279.54,375.84 1281.21,376.38 1282.89,376.85 1284.56,377.26 1286.23,377.61 1287.9,377.88 1289.57,378.09 1291.24,378.23 1292.91,378.3 1294.59,378.3 1296.26,378.23 1297.93,378.09 1299.6,377.88 1301.27,377.61 1302.94,377.26 1304.61,376.85 1306.29,376.38 1307.96,375.84 1309.63,375.24 1311.3,374.58 1312.97,373.85 1314.64,373.07 1316.31,372.23 1317.99,371.33 1319.66,370.37 1321.33,369.35 1323,368.28 1324.67,367.16 1326.34,365.99 1328.01,364.76 1329.69,363.48 1331.36,362.15 1333.03,360.77 1334.7,359.34 1336.37,357.87 1338.04,356.35 1339.71,354.79 1341.39,353.18 1343.06,351.52 1344.73,349.83 1346.4,348.09 1348.07,346.31 1349.74,344.5 1351.41,342.64 1353.09,340.75 1354.76,338.82 1356.43,336.86 1358.1,334.86 1359.77,332.83 1361.44,330.76 1363.11,328.67 1364.79,326.54 1366.46,324.38 1368.13,322.2 1369.8,319.98 1371.47,317.74 1373.14,315.48 1374.81,313.19 1376.49,310.88 1378.16,308.54 1379.83,306.18 1381.5,303.81 1383.17,301.42 1384.84,299.02 1386.51,296.61 1388.19,294.2 1389.86,291.79 1391.53,289.38 1393.2,286.97 1394.87,284.57 1396.54,282.18 1398.21,279.81 1399.89,277.45 1401.56,275.12 1403.23,272.8 1404.9,270.52 1406.57,268.26 1408.24,266.04 1409.91,263.85 1411.59,261.71 1413.26,259.6 1414.93,257.54 1416.6,255.53 1418.27,253.57 1419.94,251.67 1421.61,249.83 1423.29,248.04 1424.96,246.32 1426.63,244.67 1428.3,243.09 1429.97,241.58 1431.64,240.16 1433.31,238.81 1434.99,237.54 1436.66,236.36 1438.33,235.27 1440,234.27 1441.67,233.37 1443.34,232.57 1445.01,231.87 1446.69,231.28 1448.36,230.79 1450.03,230.42 1451.7,230.16 1453.37,230.02 1455.04,230 1456.71,230.1 1458.39,230.33 1460.06,230.7 1461.73,231.19 1463.4,231.82 1465.07,232.57 1466.74,233.45 1468.41,234.45 1470.09,235.57 1471.76,236.8 1473.43,238.13 1475.1,239.57 1476.77,241.12 1478.44,242.76 1480.11,244.49 1481.79,246.31 1483.46,248.22 1485.13,250.21 1486.8,252.28 1488.47,254.42 1490.14,256.63 1491.81,258.91 1493.49,261.25 1495.16,263.65 1496.83,266.1 1498.5,268.61 1500.17,271.16 1501.84,273.76 1503.51,276.4 1505.19,279.07 1506.86,281.77 1508.53,284.5 1510.2,287.26 1511.87,290.04 1513.54,292.83 1515.21,295.64 1516.89,298.45 1518.56,301.27 1520.23,304.1 1521.9,306.91 1523.57,309.73 1525.24,312.53 1526.91,315.32 1528.59,318.09 1530.26,320.84 1531.93,323.56 1533.6,326.26 1535.27,328.92 1536.94,331.54 1538.61,334.12 1540.29,336.66 1541.96,339.15 1543.63,341.59 1545.3,343.97 1546.97,346.3 1548.64,348.57 1550.31,350.78 1551.99,352.95 1553.66,355.06 1555.33,357.13 1557,359.14 1558.67,361.11 1560.34,363.03 1562.01,364.91 1563.69,366.74 1565.36,368.53 1567.03,370.27 1568.7,371.98 1570.37,373.64 1572.04,375.27 1573.71,376.86 1575.39,378.41 1577.06,379.93 1578.73,381.41 1580.4,382.86 1582.07,384.28 1583.74,385.67 1585.41,387.03 1587.09,388.36 1588.76,389.66 1590.43,390.94 1592.1,392.19 1593.77,393.41 1595.44,394.62 1597.11,395.8 1598.79,396.96 1600.46,398.11 1602.13,399.23 1603.8,400.34 1605.47,401.43 1607.14,402.51 1608.81,403.57 1610.49,404.63 1612.16,405.67 1613.83,406.69 1615.5,407.72 1617.17,408.73 1618.84,409.73 1620.51,410.73 1622.19,411.73 1623.86,412.72 1625.53,413.71 1627.2,414.7" fill="none" stroke="#000000" stroke-width="3.6" stroke-linejoin="round" stroke-linecap="round"/>
<rect x="952.3" y="406.7" width="16" height="16" fill="#00ff00"/>
<rect x="1035.66" y="333.89" width="16" height="16" fill="#00ff00"/>
<rect x="1119.02" y="222.81" width="16" height="16" fill="#00ff00"/>
<rect x="1202.39" y="302" width="16" height="16" fill="#00ff00"/>
<rect x="1285.75" y="370.31" width="16" height="16" fill="#00ff00"/>
<rect x="1369.11" y="302" width="16" height="16" fill="#00ff00"/>
<rect x="1452.47" y="222.81" width="16" height="16" fill="#00ff00"/>
<rect x="1535.84" y="333.89" width="16" height="16" fill="#00ff00"/>
<rect x="1619.2" y="406.7" width="16" height="16" fill="#00ff00"/>
<rect x="1612.8" y="58.1" width="16" height="16" fill="#00ff00"/>
<polyline points="960.3,414.7 961.97,414.31 963.64,413.92 965.31,413.53 966.99,413.13 968.66,412.73 970.33,412.32 972,411.91 973.67,411.49 975.34,411.06 977.01,410.62 978.69,410.17 980.36,409.7 982.03,409.22 983.7,408.73 985.37,408.22 987.04,407.69 988.71,407.14 990.39,406.58 992.06,405.99 993.73,405.38 995.4,404.75 997.07,404.09 998.74,403.41 1000.41,402.7 1002.09,401.97 1003.76,401.2 1005.43,400.4 1007.1,399.58 1008.77,398.72 1010.44,397.83 1012.11,396.9 1013.79,395.94 1015.46,394.94 1017.13,393.9 1018.8,392.82 1020.47,391.71 1022.14,390.55 1023.81,389.34 1025.49,388.1 1027.16,386.81 1028.83,385.47 1030.5,384.08 1032.17,382.65 1033.84,381.17 1035.51,379.63 1037.19,378.05 1038.86,376.41 1040.53,374.72 1042.2,372.97 1043.87,371.16 1045.54,369.3 1047.21,367.38 1048.89,365.41 1050.56,363.4 1052.23,361.34 1053.9,359.24 1055.57,357.1 1057.24,354.92 1058.91,352.72 1060.59,350.48 1062.26,348.22 1063.93,345.94 1065.6,343.64 1067.27,341.32 1068.94,338.99 1070.61,336.66 1072.29,334.31 1073.96,331.96 1075.63,329.61 1077.3,327.27 1078.97,324.93 1080.64,322.6 1082.31,320.29 1083.99,317.99 1085.66,315.71 1087.33,313.45 1089,311.22 1090.67,309.02 1092.34,306.84 1094.01,304.71 1095.69,302.61 1097.36,300.56 1099.03,298.54 1100.7,296.58 1102.37,294.67 1104.04,292.81 1105.71,291.01 1107.39,289.27 1109.06,287.6 1110.73,285.99 1112.4,284.45 1114.07,282.99 1115.74,281.6 1117.41,280.29 1119.09,279.07 1120.76,277.93 1122.43,276.88 1124.1,275.93 1125.77,275.07 1127.44,274.31 1129.11,273.65 1130.79,273.08 1132.46,272.62 1134.13,272.25 1135.8,271.97 1137.47,271.77 1139.14,271.67 1140.81,271.65 1142.49,271.71 1144.16,271.85 1145.83,272.07 1147.5,272.37 1149.17,272.74 1150.84,273.18 1152.51,273.68 1154.19,274.25 1155.86,274.89 1157.53,275.59 1159.2,276.34 1160.87,277.16 1162.54,278.02 1164.21,278.94 1165.89,279.91 1167.56,280.92 1169.23,281.98 1170.9,283.09 1172.57,284.23 1174.24,285.41 1175.91,286.63 1177.59,287.88 1179.26,289.16 1180.93,290.47 1182.6,291.8 1184.27,293.16 1185.94,294.54 1187.61,295.94 1189.29,297.36 1190.96,298.79 1192.63,300.23 1194.3,301.68 1195.97,303.15 1197.64,304.61 1199.31,306.08 1200.99,307.55 1202.66,309.02 1204.33,310.48 1206,311.94 1207.67,313.39 1209.34,314.82 1211.01,316.25 1212.69,317.66 1214.36,319.05 1216.03,320.42 1217.7,321.78 1219.37,323.13 1221.04,324.45 1222.71,325.76 1224.39,327.05 1226.06,328.31 1227.73,329.56 1229.4,330.79 1231.07,332 1232.74,333.18 1234.41,334.34 1236.09,335.48 1237.76,336.6 1239.43,337.69 1241.1,338.76 1242.77,339.8 1244.44,340.82 1246.11,341.81 1247.79,342.78 1249.46,343.72 1251.13,344.63 1252.8,345.51 1254.47,346.36 1256.14,347.19 1257.81,347.98 1259.49,348.74 1261.16,349.48 1262.83,350.18 1264.5,350.85 1266.17,351.48 1267.84,352.09 1269.51,352.66 1271.19,353.19 1272.86,353.7 1274.53,354.16 1276.2,354.59 1277.87,354.99 1279.54,355.34 1281.21,355.66 1282.89,355.94 1284.56,356.19 1286.23,356.39 1287.9,356.55 1289.57,356.68 1291.24,356.76 1292.91,356.8 1294.59,356.8 1296.26,356.76 1297.93,356.68 1299.6,356.55 1301.27,356.39 1302.94,356.19 1304.61,355.94 1306.29,355.66 1307.96,355.34 1309.63,354.99 1311.3,354.59 1312.97,354.16 1314.64,353.7 1316.31,353.19 1317.99,352.66 1319.66,352.09 1321.33,351.48 1323,350.85 1324.67,350.18 1326.34,349.48 1328.01,348.74 1329.69,347.98 1331.36,347.19 1333.03,346.36 1334.7,345.51 1336.37,344.63 1338.04,343.72 1339.71,342.78 1341.39,341.81 1343.06,340.82 1344.73,339.8 1346.4,338.76 1348.07,337.69 1349.74,336.6 1351.41,335.48 1353.09,334.34 1354.76,333.18 1356.43,332 1358.1,330.79 1359.77,329.56 1361.44,328.31 1363.11,327.05 1364.79,325.76 1366.46,324.45 1368.13,323.13 1369.8,321.78 1371.47,320.42 1373.14,319.05 1374.81,317.66 1376.49,316.25 1378.16,314.82 1379.83,313.39 1381.5,311.94 1383.17,310.48 1384.84,309.02 1386.51,307.55 1388.19,306.08 1389.86,304.61 1391.53,303.15 1393.2,301.68 1394.87,300.23 1396.54,298.79 1398.21,297.36 1399.89,295.94 1401.56,294.54 1403.23,293.16 1404.9,291.8 1406.57,290.47 1408.24,289.16 1409.91,287.88 1411.59,286.63 1413.26,285.41 1414.93,284.23 1416.6,283.09 1418.27,281.98 1419.94,280.92 1421.61,279.91 1423.29,278.94 1424.96,278.02 1426.63,277.16 1428.3,276.34 1429.97,275.59 1431.64,274.89 1433.31,274.25 1434.99,273.68 1436.66,273.18 1438.33,272.74 1440,272.37 1441.67,272.07 1443.34,271.85 1445.01,271.71 1446.69,271.65 1448.36,271.67 1450.03,271.77 1451.7,271.97 1453.37,272.25 1455.04,272.62 1456.71,273.08 1458.39,273.65 1460.06,274.31 1461.73,275.07 1463.4,275.93 1465.07,276.88 1466.74,277.93 1468.41,279.07 1470.09,280.29 1471.76,281.6 1473.43,282.99 1475.1,284.45 1476.77,285.99 1478.44,287.6 1480.11,289.27 1481.79,291.01 1483.46,292.81 1485.13,294.67 1486.8,296.58 1488.47,298.54 1490.14,300.56 1491.81,302.61 1493.49,304.71 1495.16,306.84 1496.83,309.02 1498.5,311.22 1500.17,313.45 1501.84,315.71 1503.51,317.99 1505.19,320.29 1506.86,322.6 1508.53,324.93 1510.2,327.27 1511.87,329.61 1513.54,331.96 1515.21,334.31 1516.89,336.66 1518.56,338.99 1520.23,341.32 1521.9,343.64 1523.57,345.94 1525.24,348.22 1526.91,350.48 1528.59,352.72 1530.26,354.92 1531.93,357.1 1533.6,359.24 1535.27,361.34 1536.94,363.4 1538.61,365.41 1540.29,367.38 1541.96,369.3 1543.63,371.16 1545.3,372.97 1546.97,374.72 1548.64,376.41 1550.31,378.05 1551.99,379.63 1553.66,381.17 1555.33,382.65 1557,384.08 1558.67,385.47 1560.34,386.81 1562.01,388.1 1563.69,389.34 1565.36,390.55 1567.03,391.71 1568.7,392.82 1570.37,393.9 1572.04,394.94 1573.71,395.94 1575.39,396.9 1577.06,397.83 1578.73,398.72 1580.4,399.58 1582.07,400.4 1583.74,401.2 1585.41,401.97 1587.09,402.7 1588.76,403.41 1590.43,404.09 1592.1,404.75 1593.77,405.38 1595.44,405.99 1597.11,406.58 1598.79,407.14 1600.46,407.69 1602.13,408.22 1603.8,408.73 1605.47,409.22 1607.14,409.7 1608.81,410.17 1610.49,410.62 1612.16,411.06 1613.83,411.49 1615.5,411.91 1617.17,412.32 1618.84,412.73 1620.51,413.13 1622.19,413.53 1623.86,413.92 1625.53,414.31 1627.2,414.7" fill="none" stroke="#a52a2a" stroke-width="3.6" stroke-linejoin="round" stroke-linecap="round"/>
<path d="M952.9,414.7L960.3,406.9L967.7,414.7L960.3,422.5Z" fill="#000"/>
<path d="M1036.26,371.39L1043.66,363.59L1051.06,371.39L1043.66,379.19Z" fill="#000"/>
<path d="M1119.62,274.49L1127.02,266.69L1134.42,274.49L1127.02,282.29Z" fill="#000"/>
<path d="M1202.99,315.71L1210.39,307.91L1217.79,315.71L1210.39,323.51Z" fill="#000"/>
<path d="M1286.35,356.81L1293.75,349.01L1301.15,356.81L1293.75,364.61Z" fill="#000"/>
<path d="M1369.71,315.71L1377.11,307.91L1384.51,315.71L1377.11,323.51Z" fill="#000"/>
<path d="M1453.07,274.49L1460.47,266.69L1467.88,274.49L1460.47,282.29Z" fill="#000"/>
<path d="M1536.44,371.39L1543.84,363.59L1551.24,371.39L1543.84,379.19Z" fill="#000"/>
<path d="M1619.8,414.7L1627.2,406.9L1634.6,414.7L1627.2,422.5Z" fill="#000"/>
<path d="M1613.4,98.6L1620.8,90.8L1628.2,98.6L1620.8,106.4Z" fill="#000"/>
<text x="1162.6" y="539.6" font-size="33" font-family="'Liberation Serif', 'Times New Roman', serif" textLength="254" lengthAdjust="spacing">Reaction coordinate</text>
<text transform="translate(22.3,230.3) rotate(-90)" font-size="33" font-family="'Liberation Serif', 'Times New Roman', serif" text-anchor="middle" textLength="269.6" lengthAdjust="spacing">Relative energy (eV)</text>
<defs>
<radialGradient id="gB" cx="50%" cy="50%" r="50%">
<stop offset="0" stop-color="#ffffff"/><stop offset="0.17" stop-color="#f4ffff"/><stop offset="0.36" stop-color="#a2dcf8"/>
<stop offset="0.58" stop-color="#76bbe6"/><stop offset="0.86" stop-color="#64a8d8"/><stop offset="1" stop-color="#4682b2"/></radialGradient>
<radialGradient id="gBd" cx="50%" cy="50%" r="50%">
<stop offset="0" stop-color="#a6dcf6"/><stop offset="0.5" stop-color="#78bce6"/><stop offset="0.88" stop-color="#62a6d6"/><stop offset="1" stop-color="#4682b2"/></radialGradient>
<radialGradient id="gY" cx="50%" cy="50%" r="50%">
<stop offset="0" stop-color="#ffffa0"/><stop offset="0.25" stop-color="#ffff38"/><stop offset="0.6" stop-color="#f4f400"/>
<stop offset="0.86" stop-color="#dcd800"/><stop offset="1" stop-color="#a8a200"/></radialGradient>
<radialGradient id="gG" cx="50%" cy="50%" r="50%">
<stop offset="0" stop-color="#ffffff" stop-opacity="1"/><stop offset="0.35" stop-color="#ffffff" stop-opacity="0.9"/><stop offset="1" stop-color="#c8f5c0" stop-opacity="0"/></radialGradient>
<radialGradient id="gGs" cx="50%" cy="50%" r="50%">
<stop offset="0" stop-color="#ffffff"/><stop offset="0.2" stop-color="#fbfff8"/><stop offset="0.36" stop-color="#c4f6b4"/>
<stop offset="0.5" stop-color="#94da84"/><stop offset="0.68" stop-color="#7ac76c"/><stop offset="0.88" stop-color="#6ab55e"/><stop offset="1" stop-color="#4f8a45"/></radialGradient>
<radialGradient id="gGs2" cx="50%" cy="50%" r="50%">
<stop offset="0" stop-color="#ffffff"/><stop offset="0.15" stop-color="#fbfff8"/><stop offset="0.3" stop-color="#c0f0b0"/>
<stop offset="0.44" stop-color="#92d282"/><stop offset="0.66" stop-color="#7cc06e"/><stop offset="0.88" stop-color="#6aae5e"/><stop offset="1" stop-color="#4f8a45"/></radialGradient>
<radialGradient id="gGd" cx="50%" cy="50%" r="50%">
<stop offset="0" stop-color="#72b266"/><stop offset="0.8" stop-color="#66a65b"/><stop offset="0.95" stop-color="#5a9850"/><stop offset="1" stop-color="#4a8442"/></radialGradient>
<marker id="arr" viewBox="0 0 20 12" refX="1" refY="6" markerWidth="20" markerHeight="12" markerUnits="userSpaceOnUse" orient="auto-start-reverse">
<path d="M0,6 L18,0.5 L13,6 L18,11.5 Z" fill="#000"/></marker>
</defs>
<line x1="1838.32" y1="49.15" x2="1810.55" y2="32.81" stroke="#5592c2" stroke-width="5"/>
<line x1="1810.55" y1="32.81" x2="1786.9" y2="18.9" stroke="#b4b000" stroke-width="5"/>
<line x1="1838.32" y1="49.15" x2="1810.55" y2="32.81" stroke="#72b6ea" stroke-width="3.4"/>
<line x1="1810.55" y1="32.81" x2="1786.9" y2="18.9" stroke="#f0f000" stroke-width="3.4"/>
<line x1="1838.32" y1="49.15" x2="1866.09" y2="32.81" stroke="#5592c2" stroke-width="5"/>
<line x1="1866.09" y1="32.81" x2="1889.74" y2="18.9" stroke="#b4b000" stroke-width="5"/>
<line x1="1838.32" y1="49.15" x2="1866.09" y2="32.81" stroke="#72b6ea" stroke-width="3.4"/>
<line x1="1866.09" y1="32.81" x2="1889.74" y2="18.9" stroke="#f0f000" stroke-width="3.4"/>
<line x1="1838.32" y1="49.15" x2="1810.55" y2="65.48" stroke="#5592c2" stroke-width="5"/>
<line x1="1810.55" y1="65.48" x2="1786.9" y2="79.4" stroke="#b4b000" stroke-width="5"/>
<line x1="1838.32" y1="49.15" x2="1810.55" y2="65.48" stroke="#72b6ea" stroke-width="3.4"/>
<line x1="1810.55" y1="65.48" x2="1786.9" y2="79.4" stroke="#f0f000" stroke-width="3.4"/>
<line x1="1838.32" y1="49.15" x2="1866.09" y2="65.48" stroke="#5592c2" stroke-width="5"/>
<line x1="1866.09" y1="65.48" x2="1889.74" y2="79.4" stroke="#b4b000" stroke-width="5"/>
<line x1="1838.32" y1="49.15" x2="1866.09" y2="65.48" stroke="#72b6ea" stroke-width="3.4"/>
<line x1="1866.09" y1="65.48" x2="1889.74" y2="79.4" stroke="#f0f000" stroke-width="3.4"/>
<line x1="1838.32" y1="49.15" x2="1838.32" y2="81.82" stroke="#5592c2" stroke-width="5"/>
<line x1="1838.32" y1="81.82" x2="1838.32" y2="109.65" stroke="#b4b000" stroke-width="5"/>
<line x1="1838.32" y1="49.15" x2="1838.32" y2="81.82" stroke="#72b6ea" stroke-width="3.4"/>
<line x1="1838.32" y1="81.82" x2="1838.32" y2="109.65" stroke="#f0f000" stroke-width="3.4"/>
<line x1="1941.16" y1="49.15" x2="1913.39" y2="32.81" stroke="#5592c2" stroke-width="5"/>
<line x1="1913.39" y1="32.81" x2="1889.74" y2="18.9" stroke="#b4b000" stroke-width="5"/>
<line x1="1941.16" y1="49.15" x2="1913.39" y2="32.81" stroke="#72b6ea" stroke-width="3.4"/>
<line x1="1913.39" y1="32.81" x2="1889.74" y2="18.9" stroke="#f0f000" stroke-width="3.4"/>
<line x1="1941.16" y1="49.15" x2="1968.93" y2="32.81" stroke="#5592c2" stroke-width="5"/>
<line x1="1968.93" y1="32.81" x2="1992.58" y2="18.9" stroke="#b4b000" stroke-width="5"/>
<line x1="1941.16" y1="49.15" x2="1968.93" y2="32.81" stroke="#72b6ea" stroke-width="3.4"/>
<line x1="1968.93" y1="32.81" x2="1992.58" y2="18.9" stroke="#f0f000" stroke-width="3.4"/>
<line x1="1941.16" y1="49.15" x2="1913.39" y2="65.48" stroke="#5592c2" stroke-width="5"/>
<line x1="1913.39" y1="65.48" x2="1889.74" y2="79.4" stroke="#b4b000" stroke-width="5"/>
<line x1="1941.16" y1="49.15" x2="1913.39" y2="65.48" stroke="#72b6ea" stroke-width="3.4"/>
<line x1="1913.39" y1="65.48" x2="1889.74" y2="79.4" stroke="#f0f000" stroke-width="3.4"/>
<line x1="1941.16" y1="49.15" x2="1968.93" y2="65.48" stroke="#5592c2" stroke-width="5"/>
<line x1="1968.93" y1="65.48" x2="1992.58" y2="79.4" stroke="#b4b000" stroke-width="5"/>
<line x1="1941.16" y1="49.15" x2="1968.93" y2="65.48" stroke="#72b6ea" stroke-width="3.4"/>
<line x1="1968.93" y1="65.48" x2="1992.58" y2="79.4" stroke="#f0f000" stroke-width="3.4"/>
<line x1="1941.16" y1="49.15" x2="1941.16" y2="81.82" stroke="#5592c2" stroke-width="5"/>
<line x1="1941.16" y1="81.82" x2="1941.16" y2="109.65" stroke="#b4b000" stroke-width="5"/>
<line x1="1941.16" y1="49.15" x2="1941.16" y2="81.82" stroke="#72b6ea" stroke-width="3.4"/>
<line x1="1941.16" y1="81.82" x2="1941.16" y2="109.65" stroke="#f0f000" stroke-width="3.4"/>
<line x1="2044" y1="49.15" x2="2016.23" y2="32.81" stroke="#5592c2" stroke-width="5"/>
<line x1="2016.23" y1="32.81" x2="1992.58" y2="18.9" stroke="#b4b000" stroke-width="5"/>
<line x1="2044" y1="49.15" x2="2016.23" y2="32.81" stroke="#72b6ea" stroke-width="3.4"/>
<line x1="2016.23" y1="32.81" x2="1992.58" y2="18.9" stroke="#f0f000" stroke-width="3.4"/>
<line x1="2044" y1="49.15" x2="2016.23" y2="65.48" stroke="#5592c2" stroke-width="5"/>
<line x1="2016.23" y1="65.48" x2="1992.58" y2="79.4" stroke="#b4b000" stroke-width="5"/>
<line x1="2044" y1="49.15" x2="2016.23" y2="65.48" stroke="#72b6ea" stroke-width="3.4"/>
<line x1="2016.23" y1="65.48" x2="1992.58" y2="79.4" stroke="#f0f000" stroke-width="3.4"/>
<line x1="2044" y1="49.15" x2="2044" y2="81.82" stroke="#5592c2" stroke-width="5"/>
<line x1="2044" y1="81.82" x2="2044" y2="109.65" stroke="#b4b000" stroke-width="5"/>
<line x1="2044" y1="49.15" x2="2044" y2="81.82" stroke="#72b6ea" stroke-width="3.4"/>
<line x1="2044" y1="81.82" x2="2044" y2="109.65" stroke="#f0f000" stroke-width="3.4"/>
<line x1="1838.32" y1="230.65" x2="1810.55" y2="214.31" stroke="#5592c2" stroke-width="5"/>
<line x1="1810.55" y1="214.31" x2="1786.9" y2="200.4" stroke="#b4b000" stroke-width="5"/>
<line x1="1838.32" y1="230.65" x2="1810.55" y2="214.31" stroke="#72b6ea" stroke-width="3.4"/>
<line x1="1810.55" y1="214.31" x2="1786.9" y2="200.4" stroke="#f0f000" stroke-width="3.4"/>
<line x1="1838.32" y1="230.65" x2="1866.09" y2="214.31" stroke="#5592c2" stroke-width="5"/>
<line x1="1866.09" y1="214.31" x2="1889.74" y2="200.4" stroke="#b4b000" stroke-width="5"/>
<line x1="1838.32" y1="230.65" x2="1866.09" y2="214.31" stroke="#72b6ea" stroke-width="3.4"/>
<line x1="1866.09" y1="214.31" x2="1889.74" y2="200.4" stroke="#f0f000" stroke-width="3.4"/>
<line x1="1838.32" y1="230.65" x2="1810.55" y2="246.98" stroke="#5592c2" stroke-width="5"/>
<line x1="1810.55" y1="246.98" x2="1786.9" y2="260.9" stroke="#b4b000" stroke-width="5"/>
<line x1="1838.32" y1="230.65" x2="1810.55" y2="246.98" stroke="#72b6ea" stroke-width="3.4"/>
<line x1="1810.55" y1="246.98" x2="1786.9" y2="260.9" stroke="#f0f000" stroke-width="3.4"/>
<line x1="1838.32" y1="230.65" x2="1866.09" y2="246.98" stroke="#5592c2" stroke-width="5"/>
<line x1="1866.09" y1="246.98" x2="1889.74" y2="260.9" stroke="#b4b000" stroke-width="5"/>
<line x1="1838.32" y1="230.65" x2="1866.09" y2="246.98" stroke="#72b6ea" stroke-width="3.4"/>
<line x1="1866.09" y1="246.98" x2="1889.74" y2="260.9" stroke="#f0f000" stroke-width="3.4"/>
<line x1="1838.32" y1="230.65" x2="1838.32" y2="197.98" stroke="#5592c2" stroke-width="5"/>
<line x1="1838.32" y1="197.98" x2="1838.32" y2="170.15" stroke="#b4b000" stroke-width="5"/>
<line x1="1838.32" y1="230.65" x2="1838.32" y2="197.98" stroke="#72b6ea" stroke-width="3.4"/>
<line x1="1838.32" y1="197.98" x2="1838.32" y2="170.15" stroke="#f0f000" stroke-width="3.4"/>
<line x1="1941.16" y1="230.65" x2="1913.39" y2="214.31" stroke="#5592c2" stroke-width="5"/>
<line x1="1913.39" y1="214.31" x2="1889.74" y2="200.4" stroke="#b4b000" stroke-width="5"/>
<line x1="1941.16" y1="230.65" x2="1913.39" y2="214.31" stroke="#72b6ea" stroke-width="3.4"/>
<line x1="1913.39" y1="214.31" x2="1889.74" y2="200.4" stroke="#f0f000" stroke-width="3.4"/>
<line x1="1941.16" y1="230.65" x2="1968.93" y2="214.31" stroke="#5592c2" stroke-width="5"/>
<line x1="1968.93" y1="214.31" x2="1992.58" y2="200.4" stroke="#b4b000" stroke-width="5"/>
<line x1="1941.16" y1="230.65" x2="1968.93" y2="214.31" stroke="#72b6ea" stroke-width="3.4"/>
<line x1="1968.93" y1="214.31" x2="1992.58" y2="200.4" stroke="#f0f000" stroke-width="3.4"/>
<line x1="1941.16" y1="230.65" x2="1913.39" y2="246.98" stroke="#5592c2" stroke-width="5"/>
<line x1="1913.39" y1="246.98" x2="1889.74" y2="260.9" stroke="#b4b000" stroke-width="5"/>
<line x1="1941.16" y1="230.65" x2="1913.39" y2="246.98" stroke="#72b6ea" stroke-width="3.4"/>
<line x1="1913.39" y1="246.98" x2="1889.74" y2="260.9" stroke="#f0f000" stroke-width="3.4"/>
<line x1="1941.16" y1="230.65" x2="1968.93" y2="246.98" stroke="#5592c2" stroke-width="5"/>
<line x1="1968.93" y1="246.98" x2="1992.58" y2="260.9" stroke="#b4b000" stroke-width="5"/>
<line x1="1941.16" y1="230.65" x2="1968.93" y2="246.98" stroke="#72b6ea" stroke-width="3.4"/>
<line x1="1968.93" y1="246.98" x2="1992.58" y2="260.9" stroke="#f0f000" stroke-width="3.4"/>
<line x1="1941.16" y1="230.65" x2="1941.16" y2="197.98" stroke="#5592c2" stroke-width="5"/>
<line x1="1941.16" y1="197.98" x2="1941.16" y2="170.15" stroke="#b4b000" stroke-width="5"/>
<line x1="1941.16" y1="230.65" x2="1941.16" y2="197.98" stroke="#72b6ea" stroke-width="3.4"/>
<line x1="1941.16" y1="197.98" x2="1941.16" y2="170.15" stroke="#f0f000" stroke-width="3.4"/>
<line x1="2044" y1="230.65" x2="2016.23" y2="214.31" stroke="#5592c2" stroke-width="5"/>
<line x1="2016.23" y1="214.31" x2="1992.58" y2="200.4" stroke="#b4b000" stroke-width="5"/>
<line x1="2044" y1="230.65" x2="2016.23" y2="214.31" stroke="#72b6ea" stroke-width="3.4"/>
<line x1="2016.23" y1="214.31" x2="1992.58" y2="200.4" stroke="#f0f000" stroke-width="3.4"/>
<line x1="2044" y1="230.65" x2="2016.23" y2="246.98" stroke="#5592c2" stroke-width="5"/>
<line x1="2016.23" y1="246.98" x2="1992.58" y2="260.9" stroke="#b4b000" stroke-width="5"/>
<line x1="2044" y1="230.65" x2="2016.23" y2="246.98" stroke="#72b6ea" stroke-width="3.4"/>
<line x1="2016.23" y1="246.98" x2="1992.58" y2="260.9" stroke="#f0f000" stroke-width="3.4"/>
<line x1="2044" y1="230.65" x2="2044" y2="197.98" stroke="#5592c2" stroke-width="5"/>
<line x1="2044" y1="197.98" x2="2044" y2="170.15" stroke="#b4b000" stroke-width="5"/>
<line x1="2044" y1="230.65" x2="2044" y2="197.98" stroke="#72b6ea" stroke-width="3.4"/>
<line x1="2044" y1="197.98" x2="2044" y2="170.15" stroke="#f0f000" stroke-width="3.4"/>
<line x1="1786.9" y1="139.9" x2="1814.67" y2="123.56" stroke="#5592c2" stroke-width="5"/>
<line x1="1814.67" y1="123.56" x2="1838.32" y2="109.65" stroke="#b4b000" stroke-width="5"/>
<line x1="1786.9" y1="139.9" x2="1814.67" y2="123.56" stroke="#72b6ea" stroke-width="3.4"/>
<line x1="1814.67" y1="123.56" x2="1838.32" y2="109.65" stroke="#f0f000" stroke-width="3.4"/>
<line x1="1786.9" y1="139.9" x2="1814.67" y2="156.24" stroke="#5592c2" stroke-width="5"/>
<line x1="1814.67" y1="156.24" x2="1838.32" y2="170.15" stroke="#b4b000" stroke-width="5"/>
<line x1="1786.9" y1="139.9" x2="1814.67" y2="156.24" stroke="#72b6ea" stroke-width="3.4"/>
<line x1="1814.67" y1="156.24" x2="1838.32" y2="170.15" stroke="#f0f000" stroke-width="3.4"/>
<line x1="1786.9" y1="139.9" x2="1786.9" y2="107.23" stroke="#5592c2" stroke-width="5"/>
<line x1="1786.9" y1="107.23" x2="1786.9" y2="79.4" stroke="#b4b000" stroke-width="5"/>
<line x1="1786.9" y1="139.9" x2="1786.9" y2="107.23" stroke="#72b6ea" stroke-width="3.4"/>
<line x1="1786.9" y1="107.23" x2="1786.9" y2="79.4" stroke="#f0f000" stroke-width="3.4"/>
<line x1="1786.9" y1="139.9" x2="1786.9" y2="172.57" stroke="#5592c2" stroke-width="5"/>
<line x1="1786.9" y1="172.57" x2="1786.9" y2="200.4" stroke="#b4b000" stroke-width="5"/>
<line x1="1786.9" y1="139.9" x2="1786.9" y2="172.57" stroke="#72b6ea" stroke-width="3.4"/>
<line x1="1786.9" y1="172.57" x2="1786.9" y2="200.4" stroke="#f0f000" stroke-width="3.4"/>
<line x1="1889.74" y1="139.9" x2="1861.97" y2="123.56" stroke="#5592c2" stroke-width="5"/>
<line x1="1861.97" y1="123.56" x2="1838.32" y2="109.65" stroke="#b4b000" stroke-width="5"/>
<line x1="1889.74" y1="139.9" x2="1861.97" y2="123.56" stroke="#72b6ea" stroke-width="3.4"/>
<line x1="1861.97" y1="123.56" x2="1838.32" y2="109.65" stroke="#f0f000" stroke-width="3.4"/>
<line x1="1889.74" y1="139.9" x2="1917.51" y2="123.56" stroke="#5592c2" stroke-width="5"/>
<line x1="1917.51" y1="123.56" x2="1941.16" y2="109.65" stroke="#b4b000" stroke-width="5"/>
<line x1="1889.74" y1="139.9" x2="1917.51" y2="123.56" stroke="#72b6ea" stroke-width="3.4"/>
<line x1="1917.51" y1="123.56" x2="1941.16" y2="109.65" stroke="#f0f000" stroke-width="3.4"/>
<line x1="1889.74" y1="139.9" x2="1861.97" y2="156.24" stroke="#5592c2" stroke-width="5"/>
<line x1="1861.97" y1="156.24" x2="1838.32" y2="170.15" stroke="#b4b000" stroke-width="5"/>
<line x1="1889.74" y1="139.9" x2="1861.97" y2="156.24" stroke="#72b6ea" stroke-width="3.4"/>
<line x1="1861.97" y1="156.24" x2="1838.32" y2="170.15" stroke="#f0f000" stroke-width="3.4"/>
<line x1="1889.74" y1="139.9" x2="1917.51" y2="156.24" stroke="#5592c2" stroke-width="5"/>
<line x1="1917.51" y1="156.24" x2="1941.16" y2="170.15" stroke="#b4b000" stroke-width="5"/>
<line x1="1889.74" y1="139.9" x2="1917.51" y2="156.24" stroke="#72b6ea" stroke-width="3.4"/>
<line x1="1917.51" y1="156.24" x2="1941.16" y2="170.15" stroke="#f0f000" stroke-width="3.4"/>
<line x1="1889.74" y1="139.9" x2="1889.74" y2="107.23" stroke="#5592c2" stroke-width="5"/>
<line x1="1889.74" y1="107.23" x2="1889.74" y2="79.4" stroke="#b4b000" stroke-width="5"/>
<line x1="1889.74" y1="139.9" x2="1889.74" y2="107.23" stroke="#72b6ea" stroke-width="3.4"/>
<line x1="1889.74" y1="107.23" x2="1889.74" y2="79.4" stroke="#f0f000" stroke-width="3.4"/>
<line x1="1889.74" y1="139.9" x2="1889.74" y2="172.57" stroke="#5592c2" stroke-width="5"/>
<line x1="1889.74" y1="172.57" x2="1889.74" y2="200.4" stroke="#b4b000" stroke-width="5"/>
<line x1="1889.74" y1="139.9" x2="1889.74" y2="172.57" stroke="#72b6ea" stroke-width="3.4"/>
<line x1="1889.74" y1="172.57" x2="1889.74" y2="200.4" stroke="#f0f000" stroke-width="3.4"/>
<line x1="1992.58" y1="139.9" x2="1964.81" y2="123.56" stroke="#5592c2" stroke-width="5"/>
<line x1="1964.81" y1="123.56" x2="1941.16" y2="109.65" stroke="#b4b000" stroke-width="5"/>
<line x1="1992.58" y1="139.9" x2="1964.81" y2="123.56" stroke="#72b6ea" stroke-width="3.4"/>
<line x1="1964.81" y1="123.56" x2="1941.16" y2="109.65" stroke="#f0f000" stroke-width="3.4"/>
<line x1="1992.58" y1="139.9" x2="2020.35" y2="123.56" stroke="#5592c2" stroke-width="5"/>
<line x1="2020.35" y1="123.56" x2="2044" y2="109.65" stroke="#b4b000" stroke-width="5"/>
<line x1="1992.58" y1="139.9" x2="2020.35" y2="123.56" stroke="#72b6ea" stroke-width="3.4"/>
<line x1="2020.35" y1="123.56" x2="2044" y2="109.65" stroke="#f0f000" stroke-width="3.4"/>
<line x1="1992.58" y1="139.9" x2="1964.81" y2="156.24" stroke="#5592c2" stroke-width="5"/>
<line x1="1964.81" y1="156.24" x2="1941.16" y2="170.15" stroke="#b4b000" stroke-width="5"/>
<line x1="1992.58" y1="139.9" x2="1964.81" y2="156.24" stroke="#72b6ea" stroke-width="3.4"/>
<line x1="1964.81" y1="156.24" x2="1941.16" y2="170.15" stroke="#f0f000" stroke-width="3.4"/>
<line x1="1992.58" y1="139.9" x2="2020.35" y2="156.24" stroke="#5592c2" stroke-width="5"/>
<line x1="2020.35" y1="156.24" x2="2044" y2="170.15" stroke="#b4b000" stroke-width="5"/>
<line x1="1992.58" y1="139.9" x2="2020.35" y2="156.24" stroke="#72b6ea" stroke-width="3.4"/>
<line x1="2020.35" y1="156.24" x2="2044" y2="170.15" stroke="#f0f000" stroke-width="3.4"/>
<line x1="1992.58" y1="139.9" x2="1992.58" y2="107.23" stroke="#5592c2" stroke-width="5"/>
<line x1="1992.58" y1="107.23" x2="1992.58" y2="79.4" stroke="#b4b000" stroke-width="5"/>
<line x1="1992.58" y1="139.9" x2="1992.58" y2="107.23" stroke="#72b6ea" stroke-width="3.4"/>
<line x1="1992.58" y1="107.23" x2="1992.58" y2="79.4" stroke="#f0f000" stroke-width="3.4"/>
<line x1="1992.58" y1="139.9" x2="1992.58" y2="172.57" stroke="#5592c2" stroke-width="5"/>
<line x1="1992.58" y1="172.57" x2="1992.58" y2="200.4" stroke="#b4b000" stroke-width="5"/>
<line x1="1992.58" y1="139.9" x2="1992.58" y2="172.57" stroke="#72b6ea" stroke-width="3.4"/>
<line x1="1992.58" y1="172.57" x2="1992.58" y2="200.4" stroke="#f0f000" stroke-width="3.4"/>
<circle cx="1786.9" cy="18.9" r="11.2" fill="url(#gY)"/>
<circle cx="1786.9" cy="79.4" r="11.2" fill="url(#gY)"/>
<circle cx="1786.9" cy="200.4" r="11.2" fill="url(#gY)"/>
<circle cx="1786.9" cy="260.9" r="11.2" fill="url(#gY)"/>
<circle cx="1838.32" cy="109.65" r="11.2" fill="url(#gY)"/>
<circle cx="1838.32" cy="170.15" r="11.2" fill="url(#gY)"/>
<circle cx="1889.74" cy="18.9" r="11.2" fill="url(#gY)"/>
<circle cx="1889.74" cy="79.4" r="11.2" fill="url(#gY)"/>
<circle cx="1889.74" cy="200.4" r="11.2" fill="url(#gY)"/>
<circle cx="1889.74" cy="260.9" r="11.2" fill="url(#gY)"/>
<circle cx="1941.16" cy="109.65" r="11.2" fill="url(#gY)"/>
<circle cx="1941.16" cy="170.15" r="11.2" fill="url(#gY)"/>
<circle cx="1992.58" cy="18.9" r="11.2" fill="url(#gY)"/>
<circle cx="1992.58" cy="79.4" r="11.2" fill="url(#gY)"/>
<circle cx="1992.58" cy="200.4" r="11.2" fill="url(#gY)"/>
<circle cx="1992.58" cy="260.9" r="11.2" fill="url(#gY)"/>
<circle cx="2044" cy="109.65" r="11.2" fill="url(#gY)"/>
<circle cx="2044" cy="170.15" r="11.2" fill="url(#gY)"/>
<circle cx="1838.32" cy="49.15" r="16" fill="url(#gB)"/>
<circle cx="1941.16" cy="49.15" r="16" fill="url(#gB)"/>
<circle cx="2044" cy="49.15" r="16" fill="url(#gB)"/>
<circle cx="1838.32" cy="230.65" r="16" fill="url(#gB)"/>
<circle cx="1941.16" cy="230.65" r="16" fill="url(#gB)"/>
<circle cx="2044" cy="230.65" r="16" fill="url(#gB)"/>
<circle cx="1786.9" cy="139.9" r="16" fill="url(#gB)"/>
<circle cx="1889.74" cy="139.9" r="16" fill="url(#gB)"/>
<circle cx="1992.58" cy="139.9" r="16" fill="url(#gB)"/>
<circle cx="1941.4" cy="109.6" r="17.9" fill="#4e8c44"/>
<circle cx="1932.77" cy="114.6" r="17.9" fill="#4e8c44"/>
<circle cx="1924.13" cy="119.6" r="17.9" fill="#4e8c44"/>
<circle cx="1915.5" cy="124.6" r="17.9" fill="#4e8c44"/>
<circle cx="1906.87" cy="129.6" r="17.9" fill="#4e8c44"/>
<circle cx="1898.23" cy="134.6" r="17.9" fill="#4e8c44"/>
<circle cx="1889.6" cy="139.6" r="17.9" fill="#4e8c44"/>
<circle cx="1889.65" cy="149.9" r="17.9" fill="#4e8c44"/>
<circle cx="1889.7" cy="160.2" r="17.9" fill="#4e8c44"/>
<circle cx="1889.75" cy="170.5" r="17.9" fill="#4e8c44"/>
<circle cx="1889.8" cy="180.8" r="17.9" fill="#4e8c44"/>
<circle cx="1889.85" cy="191.1" r="17.9" fill="#4e8c44"/>
<circle cx="1889.9" cy="201.4" r="17.9" fill="#4e8c44"/>
<clipPath id="cp1"><path d="M1905.46,58.9 L1992.1,58.9 L1992.1,160.3 L1964.19,160.3Z"/></clipPath>
<circle cx="1941.4" cy="109.6" r="16.9" fill="url(#gGs)" clip-path="url(#cp1)"/>
<clipPath id="cp2"><path d="M1896.83,63.9 L1909.98,63.9 L1968.7,165.3 L1955.56,165.3Z"/></clipPath>
<circle cx="1932.77" cy="114.6" r="16.9" fill="url(#gGs)" clip-path="url(#cp2)"/>
<clipPath id="cp3"><path d="M1888.2,68.9 L1901.34,68.9 L1960.07,170.3 L1946.92,170.3Z"/></clipPath>
<circle cx="1924.13" cy="119.6" r="16.9" fill="url(#gGs)" clip-path="url(#cp3)"/>
<clipPath id="cp4"><path d="M1879.56,73.9 L1892.71,73.9 L1951.44,175.3 L1938.29,175.3Z"/></clipPath>
<circle cx="1915.5" cy="124.6" r="16.9" fill="url(#gGs)" clip-path="url(#cp4)"/>
<clipPath id="cp5"><path d="M1870.93,78.9 L1884.08,78.9 L1940.69,176.66 L1914.86,154.74Z"/></clipPath>
<circle cx="1906.87" cy="129.6" r="16.9" fill="url(#gGs)" clip-path="url(#cp5)"/>
<clipPath id="cp6"><path d="M1862.3,83.9 L1875.44,83.9 L1917.12,155.85 L1916.24,155.56 L1897.81,145.22Z"/></clipPath>
<circle cx="1898.23" cy="134.6" r="16.9" fill="url(#gGs)" clip-path="url(#cp6)"/>
<clipPath id="cp7"><path d="M1838.9,88.9 L1866.81,88.9 L1899.53,145.4 L1838.9,145.7Z"/></clipPath>
<circle cx="1889.6" cy="139.6" r="16.9" fill="url(#gGs)" clip-path="url(#cp7)"/>
<clipPath id="cp8"><path d="M1915.8,153.71 L1918.04,155.61 L1838.95,156 L1838.95,144.3 L1898.5,144.01Z"/></clipPath>
<circle cx="1889.65" cy="149.9" r="16.9" fill="url(#gGs)" clip-path="url(#cp8)"/>
<clipPath id="cp9"><path d="M1940.4,162.14 L1940.4,165.8 L1839,166.3 L1839,154.6 L1916.64,154.22Z"/></clipPath>
<circle cx="1889.7" cy="160.2" r="16.9" fill="url(#gGs)" clip-path="url(#cp9)"/>
<clipPath id="cp10"><path d="M1940.45,164.4 L1940.45,176.1 L1839.05,176.6 L1839.05,164.9Z"/></clipPath>
<circle cx="1889.75" cy="170.5" r="16.9" fill="url(#gGs)" clip-path="url(#cp10)"/>
<clipPath id="cp11"><path d="M1940.5,174.7 L1940.5,186.4 L1839.1,186.9 L1839.1,175.2Z"/></clipPath>
<circle cx="1889.8" cy="180.8" r="16.9" fill="url(#gGs)" clip-path="url(#cp11)"/>
<clipPath id="cp12"><path d="M1940.55,185 L1940.55,196.7 L1839.15,197.2 L1839.15,185.5Z"/></clipPath>
<circle cx="1889.85" cy="191.1" r="16.9" fill="url(#gGs)" clip-path="url(#cp12)"/>
<clipPath id="cp13"><path d="M1940.6,195.3 L1940.6,252.1 L1839.2,252.1 L1839.2,195.8Z"/></clipPath>
<circle cx="1889.9" cy="201.4" r="16.9" fill="url(#gGs)" clip-path="url(#cp13)"/>
<line x1="1945.18" y1="126.07" x2="1928.99" y2="98.13" stroke="#5a9a4f" stroke-width="1.6" stroke-opacity="0.28"/>
<line x1="1936.54" y1="131.07" x2="1920.36" y2="103.13" stroke="#5a9a4f" stroke-width="1.6" stroke-opacity="0.28"/>
<line x1="1927.91" y1="136.07" x2="1911.72" y2="108.13" stroke="#5a9a4f" stroke-width="1.6" stroke-opacity="0.28"/>
<line x1="1919.28" y1="141.07" x2="1903.09" y2="113.13" stroke="#5a9a4f" stroke-width="1.6" stroke-opacity="0.28"/>
<line x1="1910.64" y1="146.07" x2="1894.46" y2="118.13" stroke="#5a9a4f" stroke-width="1.6" stroke-opacity="0.28"/>
<line x1="1902.01" y1="151.07" x2="1885.82" y2="123.13" stroke="#5a9a4f" stroke-width="1.6" stroke-opacity="0.28"/>
<line x1="1905.72" y1="144.67" x2="1873.53" y2="144.83" stroke="#5a9a4f" stroke-width="1.6" stroke-opacity="0.28"/>
<line x1="1905.77" y1="154.97" x2="1873.58" y2="155.13" stroke="#5a9a4f" stroke-width="1.6" stroke-opacity="0.28"/>
<line x1="1905.82" y1="165.27" x2="1873.63" y2="165.43" stroke="#5a9a4f" stroke-width="1.6" stroke-opacity="0.28"/>
<line x1="1905.87" y1="175.57" x2="1873.68" y2="175.73" stroke="#5a9a4f" stroke-width="1.6" stroke-opacity="0.28"/>
<line x1="1905.92" y1="185.87" x2="1873.73" y2="186.03" stroke="#5a9a4f" stroke-width="1.6" stroke-opacity="0.28"/>
<line x1="1905.97" y1="196.17" x2="1873.78" y2="196.33" stroke="#5a9a4f" stroke-width="1.6" stroke-opacity="0.28"/>
<line x1="1936" y1="100.4" x2="1755.3" y2="100.4" stroke="#000" stroke-width="2.6"/>
<path d="M1753.3,100.4 L1771.3,95 L1765.9,100.4 L1771.3,105.8 Z" fill="#000"/>
<text x="1680.3" y="104" font-size="29.5" font-weight="bold" font-family="'Liberation Serif', 'Times New Roman', serif" textLength="69.6" lengthAdjust="spacingAndGlyphs">H-site</text>
<line x1="1875.5" y1="136.8" x2="1752.4" y2="136.8" stroke="#000" stroke-width="2.6"/>
<path d="M1750.4,136.8 L1768.4,131.4 L1763,136.8 L1768.4,142.2 Z" fill="#000"/>
<text x="1678.9" y="146" font-size="29.5" font-weight="bold" font-family="'Liberation Serif', 'Times New Roman', serif" textLength="66.5" lengthAdjust="spacingAndGlyphs">T-site</text>
<line x1="1877.6" y1="199.9" x2="1755" y2="199.9" stroke="#000" stroke-width="2.6"/>
<path d="M1753,199.9 L1771,194.5 L1765.6,199.9 L1771,205.3 Z" fill="#000"/>
<text x="1680.2" y="207.6" font-size="29.5" font-weight="bold" font-family="'Liberation Serif', 'Times New Roman', serif" textLength="69.9" lengthAdjust="spacingAndGlyphs">H-site</text>
<text x="1673.9" y="34.6" font-size="31.5" font-family="'Liberation Serif', 'Times New Roman', serif">(c)</text>
<line x1="1791.3" y1="449.4" x2="1775.15" y2="421.7" stroke="#4f8cc0" stroke-width="5.4"/>
<line x1="1775.15" y1="421.7" x2="1759" y2="394" stroke="#b8b400" stroke-width="5.4"/>
<line x1="1791.3" y1="449.4" x2="1775.15" y2="421.7" stroke="#6aaedc" stroke-width="3.8"/>
<line x1="1775.15" y1="421.7" x2="1759" y2="394" stroke="#e4e400" stroke-width="3.8"/>
<line x1="1791.3" y1="449.4" x2="1811.25" y2="472.65" stroke="#4f8cc0" stroke-width="5.4"/>
<line x1="1811.25" y1="472.65" x2="1831.2" y2="495.9" stroke="#b8b400" stroke-width="5.4"/>
<line x1="1791.3" y1="449.4" x2="1811.25" y2="472.65" stroke="#6aaedc" stroke-width="3.8"/>
<line x1="1811.25" y1="472.65" x2="1831.2" y2="495.9" stroke="#e4e400" stroke-width="3.8"/>
<line x1="1791.3" y1="449.4" x2="1827.4" y2="423.7" stroke="#4f8cc0" stroke-width="5.4"/>
<line x1="1827.4" y1="423.7" x2="1863.5" y2="398" stroke="#b8b400" stroke-width="5.4"/>
<line x1="1791.3" y1="449.4" x2="1827.4" y2="423.7" stroke="#6aaedc" stroke-width="3.8"/>
<line x1="1827.4" y1="423.7" x2="1863.5" y2="398" stroke="#e4e400" stroke-width="3.8"/>
<line x1="1791.3" y1="449.4" x2="1827.4" y2="423.7" stroke="#8cc6ea" stroke-width="1.32"/>
<line x1="1827.4" y1="423.7" x2="1863.5" y2="398" stroke="#f4f460" stroke-width="1.32"/>
<line x1="1903" y1="445.4" x2="1867.1" y2="470.65" stroke="#4f8cc0" stroke-width="5.4"/>
<line x1="1867.1" y1="470.65" x2="1831.2" y2="495.9" stroke="#b8b400" stroke-width="5.4"/>
<line x1="1903" y1="445.4" x2="1867.1" y2="470.65" stroke="#6aaedc" stroke-width="3.8"/>
<line x1="1867.1" y1="470.65" x2="1831.2" y2="495.9" stroke="#e4e400" stroke-width="3.8"/>
<line x1="1903" y1="445.4" x2="1867.1" y2="470.65" stroke="#8cc6ea" stroke-width="1.32"/>
<line x1="1867.1" y1="470.65" x2="1831.2" y2="495.9" stroke="#f4f460" stroke-width="1.32"/>
<line x1="1903" y1="445.4" x2="1883.25" y2="421.7" stroke="#4f8cc0" stroke-width="5.4"/>
<line x1="1883.25" y1="421.7" x2="1863.5" y2="398" stroke="#b8b400" stroke-width="5.4"/>
<line x1="1903" y1="445.4" x2="1883.25" y2="421.7" stroke="#6aaedc" stroke-width="3.8"/>
<line x1="1883.25" y1="421.7" x2="1863.5" y2="398" stroke="#e4e400" stroke-width="3.8"/>
<line x1="1903" y1="445.4" x2="1919.1" y2="471.5" stroke="#4f8cc0" stroke-width="5.4"/>
<line x1="1919.1" y1="471.5" x2="1935.2" y2="497.6" stroke="#b8b400" stroke-width="5.4"/>
<line x1="1903" y1="445.4" x2="1919.1" y2="471.5" stroke="#6aaedc" stroke-width="3.8"/>
<line x1="1919.1" y1="471.5" x2="1935.2" y2="497.6" stroke="#e4e400" stroke-width="3.8"/>
<line x1="1903" y1="445.4" x2="1938.7" y2="420.2" stroke="#4f8cc0" stroke-width="5.4"/>
<line x1="1938.7" y1="420.2" x2="1974.4" y2="395" stroke="#b8b400" stroke-width="5.4"/>
<line x1="1903" y1="445.4" x2="1938.7" y2="420.2" stroke="#6aaedc" stroke-width="3.8"/>
<line x1="1938.7" y1="420.2" x2="1974.4" y2="395" stroke="#e4e400" stroke-width="3.8"/>
<line x1="1903" y1="445.4" x2="1938.7" y2="420.2" stroke="#8cc6ea" stroke-width="1.32"/>
<line x1="1938.7" y1="420.2" x2="1974.4" y2="395" stroke="#f4f460" stroke-width="1.32"/>
<line x1="2006.6" y1="449.4" x2="1970.9" y2="473.5" stroke="#4f8cc0" stroke-width="5.4"/>
<line x1="1970.9" y1="473.5" x2="1935.2" y2="497.6" stroke="#b8b400" stroke-width="5.4"/>
<line x1="2006.6" y1="449.4" x2="1970.9" y2="473.5" stroke="#6aaedc" stroke-width="3.8"/>
<line x1="1970.9" y1="473.5" x2="1935.2" y2="497.6" stroke="#e4e400" stroke-width="3.8"/>
<line x1="2006.6" y1="449.4" x2="1970.9" y2="473.5" stroke="#8cc6ea" stroke-width="1.32"/>
<line x1="1970.9" y1="473.5" x2="1935.2" y2="497.6" stroke="#f4f460" stroke-width="1.32"/>
<line x1="2006.6" y1="449.4" x2="1990.5" y2="422.2" stroke="#4f8cc0" stroke-width="5.4"/>
<line x1="1990.5" y1="422.2" x2="1974.4" y2="395" stroke="#b8b400" stroke-width="5.4"/>
<line x1="2006.6" y1="449.4" x2="1990.5" y2="422.2" stroke="#6aaedc" stroke-width="3.8"/>
<line x1="1990.5" y1="422.2" x2="1974.4" y2="395" stroke="#e4e400" stroke-width="3.8"/>
<line x1="2006.6" y1="449.4" x2="2026.6" y2="472.9" stroke="#4f8cc0" stroke-width="5.4"/>
<line x1="2026.6" y1="472.9" x2="2046.6" y2="496.4" stroke="#b8b400" stroke-width="5.4"/>
<line x1="2006.6" y1="449.4" x2="2026.6" y2="472.9" stroke="#6aaedc" stroke-width="3.8"/>
<line x1="2026.6" y1="472.9" x2="2046.6" y2="496.4" stroke="#e4e400" stroke-width="3.8"/>
<circle cx="1759" cy="394" r="12.6" fill="url(#gY)" stroke="#a8a000" stroke-width="0.6"/>
<circle cx="1831.2" cy="495.9" r="12.6" fill="url(#gY)" stroke="#a8a000" stroke-width="0.6"/>
<circle cx="1791.3" cy="449.4" r="18.8" fill="url(#gBd)" stroke="#4a82b0" stroke-width="0.7"/>
<circle cx="1863.5" cy="398" r="12.6" fill="url(#gY)" stroke="#a8a000" stroke-width="0.6"/>
<circle cx="1935.2" cy="497.6" r="12.6" fill="url(#gY)" stroke="#a8a000" stroke-width="0.6"/>
<circle cx="1903" cy="445.4" r="18.8" fill="url(#gBd)" stroke="#4a82b0" stroke-width="0.7"/>
<circle cx="1974.4" cy="395" r="12.6" fill="url(#gY)" stroke="#a8a000" stroke-width="0.6"/>
<circle cx="2046.6" cy="496.4" r="12.6" fill="url(#gY)" stroke="#a8a000" stroke-width="0.6"/>
<circle cx="2006.6" cy="449.4" r="18.8" fill="url(#gBd)" stroke="#4a82b0" stroke-width="0.7"/>
<line x1="1788.37" y1="452.46" x2="1772.22" y2="424.76" stroke="#4f8cc0" stroke-width="5.4"/>
<line x1="1772.22" y1="424.76" x2="1756.07" y2="397.06" stroke="#b8b400" stroke-width="5.4"/>
<line x1="1788.37" y1="452.46" x2="1772.22" y2="424.76" stroke="#6aaedc" stroke-width="3.8"/>
<line x1="1772.22" y1="424.76" x2="1756.07" y2="397.06" stroke="#e4e400" stroke-width="3.8"/>
<line x1="1788.37" y1="452.46" x2="1808.32" y2="475.71" stroke="#4f8cc0" stroke-width="5.4"/>
<line x1="1808.32" y1="475.71" x2="1828.27" y2="498.96" stroke="#b8b400" stroke-width="5.4"/>
<line x1="1788.37" y1="452.46" x2="1808.32" y2="475.71" stroke="#6aaedc" stroke-width="3.8"/>
<line x1="1808.32" y1="475.71" x2="1828.27" y2="498.96" stroke="#e4e400" stroke-width="3.8"/>
<line x1="1900.07" y1="448.46" x2="1880.32" y2="424.76" stroke="#4f8cc0" stroke-width="5.4"/>
<line x1="1880.32" y1="424.76" x2="1860.57" y2="401.06" stroke="#b8b400" stroke-width="5.4"/>
<line x1="1900.07" y1="448.46" x2="1880.32" y2="424.76" stroke="#6aaedc" stroke-width="3.8"/>
<line x1="1880.32" y1="424.76" x2="1860.57" y2="401.06" stroke="#e4e400" stroke-width="3.8"/>
<line x1="1900.07" y1="448.46" x2="1916.17" y2="474.56" stroke="#4f8cc0" stroke-width="5.4"/>
<line x1="1916.17" y1="474.56" x2="1932.27" y2="500.66" stroke="#b8b400" stroke-width="5.4"/>
<line x1="1900.07" y1="448.46" x2="1916.17" y2="474.56" stroke="#6aaedc" stroke-width="3.8"/>
<line x1="1916.17" y1="474.56" x2="1932.27" y2="500.66" stroke="#e4e400" stroke-width="3.8"/>
<line x1="2003.67" y1="452.46" x2="1987.57" y2="425.26" stroke="#4f8cc0" stroke-width="5.4"/>
<line x1="1987.57" y1="425.26" x2="1971.47" y2="398.06" stroke="#b8b400" stroke-width="5.4"/>
<line x1="2003.67" y1="452.46" x2="1987.57" y2="425.26" stroke="#6aaedc" stroke-width="3.8"/>
<line x1="1987.57" y1="425.26" x2="1971.47" y2="398.06" stroke="#e4e400" stroke-width="3.8"/>
<line x1="2003.67" y1="452.46" x2="2023.67" y2="475.96" stroke="#4f8cc0" stroke-width="5.4"/>
<line x1="2023.67" y1="475.96" x2="2043.67" y2="499.46" stroke="#b8b400" stroke-width="5.4"/>
<line x1="2003.67" y1="452.46" x2="2023.67" y2="475.96" stroke="#6aaedc" stroke-width="3.8"/>
<line x1="2023.67" y1="475.96" x2="2043.67" y2="499.46" stroke="#e4e400" stroke-width="3.8"/>
<line x1="1785.43" y1="455.54" x2="1769.28" y2="427.84" stroke="#4f8cc0" stroke-width="5.4"/>
<line x1="1769.28" y1="427.84" x2="1753.13" y2="400.14" stroke="#b8b400" stroke-width="5.4"/>
<line x1="1785.43" y1="455.54" x2="1769.28" y2="427.84" stroke="#6aaedc" stroke-width="3.8"/>
<line x1="1769.28" y1="427.84" x2="1753.13" y2="400.14" stroke="#e4e400" stroke-width="3.8"/>
<line x1="1785.43" y1="455.54" x2="1805.38" y2="478.79" stroke="#4f8cc0" stroke-width="5.4"/>
<line x1="1805.38" y1="478.79" x2="1825.33" y2="502.04" stroke="#b8b400" stroke-width="5.4"/>
<line x1="1785.43" y1="455.54" x2="1805.38" y2="478.79" stroke="#6aaedc" stroke-width="3.8"/>
<line x1="1805.38" y1="478.79" x2="1825.33" y2="502.04" stroke="#e4e400" stroke-width="3.8"/>
<line x1="1897.13" y1="451.54" x2="1877.38" y2="427.84" stroke="#4f8cc0" stroke-width="5.4"/>
<line x1="1877.38" y1="427.84" x2="1857.63" y2="404.14" stroke="#b8b400" stroke-width="5.4"/>
<line x1="1897.13" y1="451.54" x2="1877.38" y2="427.84" stroke="#6aaedc" stroke-width="3.8"/>
<line x1="1877.38" y1="427.84" x2="1857.63" y2="404.14" stroke="#e4e400" stroke-width="3.8"/>
<line x1="1897.13" y1="451.54" x2="1913.23" y2="477.64" stroke="#4f8cc0" stroke-width="5.4"/>
<line x1="1913.23" y1="477.64" x2="1929.33" y2="503.74" stroke="#b8b400" stroke-width="5.4"/>
<line x1="1897.13" y1="451.54" x2="1913.23" y2="477.64" stroke="#6aaedc" stroke-width="3.8"/>
<line x1="1913.23" y1="477.64" x2="1929.33" y2="503.74" stroke="#e4e400" stroke-width="3.8"/>
<line x1="2000.73" y1="455.54" x2="1984.63" y2="428.34" stroke="#4f8cc0" stroke-width="5.4"/>
<line x1="1984.63" y1="428.34" x2="1968.53" y2="401.14" stroke="#b8b400" stroke-width="5.4"/>
<line x1="2000.73" y1="455.54" x2="1984.63" y2="428.34" stroke="#6aaedc" stroke-width="3.8"/>
<line x1="1984.63" y1="428.34" x2="1968.53" y2="401.14" stroke="#e4e400" stroke-width="3.8"/>
<line x1="2000.73" y1="455.54" x2="2020.73" y2="479.04" stroke="#4f8cc0" stroke-width="5.4"/>
<line x1="2020.73" y1="479.04" x2="2040.73" y2="502.54" stroke="#b8b400" stroke-width="5.4"/>
<line x1="2000.73" y1="455.54" x2="2020.73" y2="479.04" stroke="#6aaedc" stroke-width="3.8"/>
<line x1="2020.73" y1="479.04" x2="2040.73" y2="502.54" stroke="#e4e400" stroke-width="3.8"/>
<line x1="1782.5" y1="458.6" x2="1766.35" y2="430.9" stroke="#4f8cc0" stroke-width="5.4"/>
<line x1="1766.35" y1="430.9" x2="1750.2" y2="403.2" stroke="#b8b400" stroke-width="5.4"/>
<line x1="1782.5" y1="458.6" x2="1766.35" y2="430.9" stroke="#6aaedc" stroke-width="3.8"/>
<line x1="1766.35" y1="430.9" x2="1750.2" y2="403.2" stroke="#e4e400" stroke-width="3.8"/>
<line x1="1782.5" y1="458.6" x2="1802.45" y2="481.85" stroke="#4f8cc0" stroke-width="5.4"/>
<line x1="1802.45" y1="481.85" x2="1822.4" y2="505.1" stroke="#b8b400" stroke-width="5.4"/>
<line x1="1782.5" y1="458.6" x2="1802.45" y2="481.85" stroke="#6aaedc" stroke-width="3.8"/>
<line x1="1802.45" y1="481.85" x2="1822.4" y2="505.1" stroke="#e4e400" stroke-width="3.8"/>
<line x1="1782.5" y1="458.6" x2="1818.6" y2="432.9" stroke="#4f8cc0" stroke-width="5.4"/>
<line x1="1818.6" y1="432.9" x2="1854.7" y2="407.2" stroke="#b8b400" stroke-width="5.4"/>
<line x1="1782.5" y1="458.6" x2="1818.6" y2="432.9" stroke="#6aaedc" stroke-width="3.8"/>
<line x1="1818.6" y1="432.9" x2="1854.7" y2="407.2" stroke="#e4e400" stroke-width="3.8"/>
<line x1="1782.5" y1="458.6" x2="1818.6" y2="432.9" stroke="#8cc6ea" stroke-width="1.32"/>
<line x1="1818.6" y1="432.9" x2="1854.7" y2="407.2" stroke="#f4f460" stroke-width="1.32"/>
<line x1="1894.2" y1="454.6" x2="1858.3" y2="479.85" stroke="#4f8cc0" stroke-width="5.4"/>
<line x1="1858.3" y1="479.85" x2="1822.4" y2="505.1" stroke="#b8b400" stroke-width="5.4"/>
<line x1="1894.2" y1="454.6" x2="1858.3" y2="479.85" stroke="#6aaedc" stroke-width="3.8"/>
<line x1="1858.3" y1="479.85" x2="1822.4" y2="505.1" stroke="#e4e400" stroke-width="3.8"/>
<line x1="1894.2" y1="454.6" x2="1858.3" y2="479.85" stroke="#8cc6ea" stroke-width="1.32"/>
<line x1="1858.3" y1="479.85" x2="1822.4" y2="505.1" stroke="#f4f460" stroke-width="1.32"/>
<line x1="1894.2" y1="454.6" x2="1874.45" y2="430.9" stroke="#4f8cc0" stroke-width="5.4"/>
<line x1="1874.45" y1="430.9" x2="1854.7" y2="407.2" stroke="#b8b400" stroke-width="5.4"/>
<line x1="1894.2" y1="454.6" x2="1874.45" y2="430.9" stroke="#6aaedc" stroke-width="3.8"/>
<line x1="1874.45" y1="430.9" x2="1854.7" y2="407.2" stroke="#e4e400" stroke-width="3.8"/>
<line x1="1894.2" y1="454.6" x2="1910.3" y2="480.7" stroke="#4f8cc0" stroke-width="5.4"/>
<line x1="1910.3" y1="480.7" x2="1926.4" y2="506.8" stroke="#b8b400" stroke-width="5.4"/>
<line x1="1894.2" y1="454.6" x2="1910.3" y2="480.7" stroke="#6aaedc" stroke-width="3.8"/>
<line x1="1910.3" y1="480.7" x2="1926.4" y2="506.8" stroke="#e4e400" stroke-width="3.8"/>
<line x1="1894.2" y1="454.6" x2="1929.9" y2="429.4" stroke="#4f8cc0" stroke-width="5.4"/>
<line x1="1929.9" y1="429.4" x2="1965.6" y2="404.2" stroke="#b8b400" stroke-width="5.4"/>
<line x1="1894.2" y1="454.6" x2="1929.9" y2="429.4" stroke="#6aaedc" stroke-width="3.8"/>
<line x1="1929.9" y1="429.4" x2="1965.6" y2="404.2" stroke="#e4e400" stroke-width="3.8"/>
<line x1="1894.2" y1="454.6" x2="1929.9" y2="429.4" stroke="#8cc6ea" stroke-width="1.32"/>
<line x1="1929.9" y1="429.4" x2="1965.6" y2="404.2" stroke="#f4f460" stroke-width="1.32"/>
<line x1="1997.8" y1="458.6" x2="1962.1" y2="482.7" stroke="#4f8cc0" stroke-width="5.4"/>
<line x1="1962.1" y1="482.7" x2="1926.4" y2="506.8" stroke="#b8b400" stroke-width="5.4"/>
<line x1="1997.8" y1="458.6" x2="1962.1" y2="482.7" stroke="#6aaedc" stroke-width="3.8"/>
<line x1="1962.1" y1="482.7" x2="1926.4" y2="506.8" stroke="#e4e400" stroke-width="3.8"/>
<line x1="1997.8" y1="458.6" x2="1962.1" y2="482.7" stroke="#8cc6ea" stroke-width="1.32"/>
<line x1="1962.1" y1="482.7" x2="1926.4" y2="506.8" stroke="#f4f460" stroke-width="1.32"/>
<line x1="1997.8" y1="458.6" x2="1981.7" y2="431.4" stroke="#4f8cc0" stroke-width="5.4"/>
<line x1="1981.7" y1="431.4" x2="1965.6" y2="404.2" stroke="#b8b400" stroke-width="5.4"/>
<line x1="1997.8" y1="458.6" x2="1981.7" y2="431.4" stroke="#6aaedc" stroke-width="3.8"/>
<line x1="1981.7" y1="431.4" x2="1965.6" y2="404.2" stroke="#e4e400" stroke-width="3.8"/>
<line x1="1997.8" y1="458.6" x2="2017.8" y2="482.1" stroke="#4f8cc0" stroke-width="5.4"/>
<line x1="2017.8" y1="482.1" x2="2037.8" y2="505.6" stroke="#b8b400" stroke-width="5.4"/>
<line x1="1997.8" y1="458.6" x2="2017.8" y2="482.1" stroke="#6aaedc" stroke-width="3.8"/>
<line x1="2017.8" y1="482.1" x2="2037.8" y2="505.6" stroke="#e4e400" stroke-width="3.8"/>
<circle cx="1750.2" cy="403.2" r="13.1" fill="url(#gY)" stroke="#a8a000" stroke-width="0.6"/>
<circle cx="1822.4" cy="505.1" r="13.1" fill="url(#gY)" stroke="#a8a000" stroke-width="0.6"/>
<circle cx="1782.5" cy="458.6" r="19.2" fill="url(#gBd)" stroke="#4a82b0" stroke-width="0.7"/>
<circle cx="1854.7" cy="407.2" r="13.1" fill="url(#gY)" stroke="#a8a000" stroke-width="0.6"/>
<circle cx="1926.4" cy="506.8" r="13.1" fill="url(#gY)" stroke="#a8a000" stroke-width="0.6"/>
<circle cx="1894.2" cy="454.6" r="19.2" fill="url(#gBd)" stroke="#4a82b0" stroke-width="0.7"/>
<circle cx="1965.6" cy="404.2" r="13.1" fill="url(#gY)" stroke="#a8a000" stroke-width="0.6"/>
<circle cx="2037.8" cy="505.6" r="13.1" fill="url(#gY)" stroke="#a8a000" stroke-width="0.6"/>
<circle cx="1997.8" cy="458.6" r="19.2" fill="url(#gBd)" stroke="#4a82b0" stroke-width="0.7"/>
<line x1="1779.57" y1="461.66" x2="1763.42" y2="433.96" stroke="#4f8cc0" stroke-width="5.4"/>
<line x1="1763.42" y1="433.96" x2="1747.27" y2="406.26" stroke="#b8b400" stroke-width="5.4"/>
<line x1="1779.57" y1="461.66" x2="1763.42" y2="433.96" stroke="#6aaedc" stroke-width="3.8"/>
<line x1="1763.42" y1="433.96" x2="1747.27" y2="406.26" stroke="#e4e400" stroke-width="3.8"/>
<line x1="1779.57" y1="461.66" x2="1799.52" y2="484.91" stroke="#4f8cc0" stroke-width="5.4"/>
<line x1="1799.52" y1="484.91" x2="1819.47" y2="508.16" stroke="#b8b400" stroke-width="5.4"/>
<line x1="1779.57" y1="461.66" x2="1799.52" y2="484.91" stroke="#6aaedc" stroke-width="3.8"/>
<line x1="1799.52" y1="484.91" x2="1819.47" y2="508.16" stroke="#e4e400" stroke-width="3.8"/>
<line x1="1891.27" y1="457.66" x2="1871.52" y2="433.96" stroke="#4f8cc0" stroke-width="5.4"/>
<line x1="1871.52" y1="433.96" x2="1851.77" y2="410.26" stroke="#b8b400" stroke-width="5.4"/>
<line x1="1891.27" y1="457.66" x2="1871.52" y2="433.96" stroke="#6aaedc" stroke-width="3.8"/>
<line x1="1871.52" y1="433.96" x2="1851.77" y2="410.26" stroke="#e4e400" stroke-width="3.8"/>
<line x1="1891.27" y1="457.66" x2="1907.37" y2="483.76" stroke="#4f8cc0" stroke-width="5.4"/>
<line x1="1907.37" y1="483.76" x2="1923.47" y2="509.86" stroke="#b8b400" stroke-width="5.4"/>
<line x1="1891.27" y1="457.66" x2="1907.37" y2="483.76" stroke="#6aaedc" stroke-width="3.8"/>
<line x1="1907.37" y1="483.76" x2="1923.47" y2="509.86" stroke="#e4e400" stroke-width="3.8"/>
<line x1="1994.87" y1="461.66" x2="1978.77" y2="434.46" stroke="#4f8cc0" stroke-width="5.4"/>
<line x1="1978.77" y1="434.46" x2="1962.67" y2="407.26" stroke="#b8b400" stroke-width="5.4"/>
<line x1="1994.87" y1="461.66" x2="1978.77" y2="434.46" stroke="#6aaedc" stroke-width="3.8"/>
<line x1="1978.77" y1="434.46" x2="1962.67" y2="407.26" stroke="#e4e400" stroke-width="3.8"/>
<line x1="1994.87" y1="461.66" x2="2014.87" y2="485.16" stroke="#4f8cc0" stroke-width="5.4"/>
<line x1="2014.87" y1="485.16" x2="2034.87" y2="508.66" stroke="#b8b400" stroke-width="5.4"/>
<line x1="1994.87" y1="461.66" x2="2014.87" y2="485.16" stroke="#6aaedc" stroke-width="3.8"/>
<line x1="2014.87" y1="485.16" x2="2034.87" y2="508.66" stroke="#e4e400" stroke-width="3.8"/>
<line x1="1776.63" y1="464.74" x2="1760.48" y2="437.04" stroke="#4f8cc0" stroke-width="5.4"/>
<line x1="1760.48" y1="437.04" x2="1744.33" y2="409.34" stroke="#b8b400" stroke-width="5.4"/>
<line x1="1776.63" y1="464.74" x2="1760.48" y2="437.04" stroke="#6aaedc" stroke-width="3.8"/>
<line x1="1760.48" y1="437.04" x2="1744.33" y2="409.34" stroke="#e4e400" stroke-width="3.8"/>
<line x1="1776.63" y1="464.74" x2="1796.58" y2="487.99" stroke="#4f8cc0" stroke-width="5.4"/>
<line x1="1796.58" y1="487.99" x2="1816.53" y2="511.24" stroke="#b8b400" stroke-width="5.4"/>
<line x1="1776.63" y1="464.74" x2="1796.58" y2="487.99" stroke="#6aaedc" stroke-width="3.8"/>
<line x1="1796.58" y1="487.99" x2="1816.53" y2="511.24" stroke="#e4e400" stroke-width="3.8"/>
<line x1="1888.33" y1="460.74" x2="1868.58" y2="437.04" stroke="#4f8cc0" stroke-width="5.4"/>
<line x1="1868.58" y1="437.04" x2="1848.83" y2="413.34" stroke="#b8b400" stroke-width="5.4"/>
<line x1="1888.33" y1="460.74" x2="1868.58" y2="437.04" stroke="#6aaedc" stroke-width="3.8"/>
<line x1="1868.58" y1="437.04" x2="1848.83" y2="413.34" stroke="#e4e400" stroke-width="3.8"/>
<line x1="1888.33" y1="460.74" x2="1904.43" y2="486.84" stroke="#4f8cc0" stroke-width="5.4"/>
<line x1="1904.43" y1="486.84" x2="1920.53" y2="512.94" stroke="#b8b400" stroke-width="5.4"/>
<line x1="1888.33" y1="460.74" x2="1904.43" y2="486.84" stroke="#6aaedc" stroke-width="3.8"/>
<line x1="1904.43" y1="486.84" x2="1920.53" y2="512.94" stroke="#e4e400" stroke-width="3.8"/>
<line x1="1991.93" y1="464.74" x2="1975.83" y2="437.54" stroke="#4f8cc0" stroke-width="5.4"/>
<line x1="1975.83" y1="437.54" x2="1959.73" y2="410.34" stroke="#b8b400" stroke-width="5.4"/>
<line x1="1991.93" y1="464.74" x2="1975.83" y2="437.54" stroke="#6aaedc" stroke-width="3.8"/>
<line x1="1975.83" y1="437.54" x2="1959.73" y2="410.34" stroke="#e4e400" stroke-width="3.8"/>
<line x1="1991.93" y1="464.74" x2="2011.93" y2="488.24" stroke="#4f8cc0" stroke-width="5.4"/>
<line x1="2011.93" y1="488.24" x2="2031.93" y2="511.74" stroke="#b8b400" stroke-width="5.4"/>
<line x1="1991.93" y1="464.74" x2="2011.93" y2="488.24" stroke="#6aaedc" stroke-width="3.8"/>
<line x1="2011.93" y1="488.24" x2="2031.93" y2="511.74" stroke="#e4e400" stroke-width="3.8"/>
<line x1="1773.7" y1="467.8" x2="1757.55" y2="440.1" stroke="#4f8cc0" stroke-width="5.4"/>
<line x1="1757.55" y1="440.1" x2="1741.4" y2="412.4" stroke="#b8b400" stroke-width="5.4"/>
<line x1="1773.7" y1="467.8" x2="1757.55" y2="440.1" stroke="#6aaedc" stroke-width="3.8"/>
<line x1="1757.55" y1="440.1" x2="1741.4" y2="412.4" stroke="#e4e400" stroke-width="3.8"/>
<line x1="1773.7" y1="467.8" x2="1793.65" y2="491.05" stroke="#4f8cc0" stroke-width="5.4"/>
<line x1="1793.65" y1="491.05" x2="1813.6" y2="514.3" stroke="#b8b400" stroke-width="5.4"/>
<line x1="1773.7" y1="467.8" x2="1793.65" y2="491.05" stroke="#6aaedc" stroke-width="3.8"/>
<line x1="1793.65" y1="491.05" x2="1813.6" y2="514.3" stroke="#e4e400" stroke-width="3.8"/>
<line x1="1773.7" y1="467.8" x2="1809.8" y2="442.1" stroke="#4f8cc0" stroke-width="5.4"/>
<line x1="1809.8" y1="442.1" x2="1845.9" y2="416.4" stroke="#b8b400" stroke-width="5.4"/>
<line x1="1773.7" y1="467.8" x2="1809.8" y2="442.1" stroke="#6aaedc" stroke-width="3.8"/>
<line x1="1809.8" y1="442.1" x2="1845.9" y2="416.4" stroke="#e4e400" stroke-width="3.8"/>
<line x1="1773.7" y1="467.8" x2="1809.8" y2="442.1" stroke="#8cc6ea" stroke-width="1.32"/>
<line x1="1809.8" y1="442.1" x2="1845.9" y2="416.4" stroke="#f4f460" stroke-width="1.32"/>
<line x1="1885.4" y1="463.8" x2="1849.5" y2="489.05" stroke="#4f8cc0" stroke-width="5.4"/>
<line x1="1849.5" y1="489.05" x2="1813.6" y2="514.3" stroke="#b8b400" stroke-width="5.4"/>
<line x1="1885.4" y1="463.8" x2="1849.5" y2="489.05" stroke="#6aaedc" stroke-width="3.8"/>
<line x1="1849.5" y1="489.05" x2="1813.6" y2="514.3" stroke="#e4e400" stroke-width="3.8"/>
<line x1="1885.4" y1="463.8" x2="1849.5" y2="489.05" stroke="#8cc6ea" stroke-width="1.32"/>
<line x1="1849.5" y1="489.05" x2="1813.6" y2="514.3" stroke="#f4f460" stroke-width="1.32"/>
<line x1="1885.4" y1="463.8" x2="1865.65" y2="440.1" stroke="#4f8cc0" stroke-width="5.4"/>
<line x1="1865.65" y1="440.1" x2="1845.9" y2="416.4" stroke="#b8b400" stroke-width="5.4"/>
<line x1="1885.4" y1="463.8" x2="1865.65" y2="440.1" stroke="#6aaedc" stroke-width="3.8"/>
<line x1="1865.65" y1="440.1" x2="1845.9" y2="416.4" stroke="#e4e400" stroke-width="3.8"/>
<line x1="1885.4" y1="463.8" x2="1901.5" y2="489.9" stroke="#4f8cc0" stroke-width="5.4"/>
<line x1="1901.5" y1="489.9" x2="1917.6" y2="516" stroke="#b8b400" stroke-width="5.4"/>
<line x1="1885.4" y1="463.8" x2="1901.5" y2="489.9" stroke="#6aaedc" stroke-width="3.8"/>
<line x1="1901.5" y1="489.9" x2="1917.6" y2="516" stroke="#e4e400" stroke-width="3.8"/>
<line x1="1885.4" y1="463.8" x2="1921.1" y2="438.6" stroke="#4f8cc0" stroke-width="5.4"/>
<line x1="1921.1" y1="438.6" x2="1956.8" y2="413.4" stroke="#b8b400" stroke-width="5.4"/>
<line x1="1885.4" y1="463.8" x2="1921.1" y2="438.6" stroke="#6aaedc" stroke-width="3.8"/>
<line x1="1921.1" y1="438.6" x2="1956.8" y2="413.4" stroke="#e4e400" stroke-width="3.8"/>
<line x1="1885.4" y1="463.8" x2="1921.1" y2="438.6" stroke="#8cc6ea" stroke-width="1.32"/>
<line x1="1921.1" y1="438.6" x2="1956.8" y2="413.4" stroke="#f4f460" stroke-width="1.32"/>
<line x1="1989" y1="467.8" x2="1953.3" y2="491.9" stroke="#4f8cc0" stroke-width="5.4"/>
<line x1="1953.3" y1="491.9" x2="1917.6" y2="516" stroke="#b8b400" stroke-width="5.4"/>
<line x1="1989" y1="467.8" x2="1953.3" y2="491.9" stroke="#6aaedc" stroke-width="3.8"/>
<line x1="1953.3" y1="491.9" x2="1917.6" y2="516" stroke="#e4e400" stroke-width="3.8"/>
<line x1="1989" y1="467.8" x2="1953.3" y2="491.9" stroke="#8cc6ea" stroke-width="1.32"/>
<line x1="1953.3" y1="491.9" x2="1917.6" y2="516" stroke="#f4f460" stroke-width="1.32"/>
<line x1="1989" y1="467.8" x2="1972.9" y2="440.6" stroke="#4f8cc0" stroke-width="5.4"/>
<line x1="1972.9" y1="440.6" x2="1956.8" y2="413.4" stroke="#b8b400" stroke-width="5.4"/>
<line x1="1989" y1="467.8" x2="1972.9" y2="440.6" stroke="#6aaedc" stroke-width="3.8"/>
<line x1="1972.9" y1="440.6" x2="1956.8" y2="413.4" stroke="#e4e400" stroke-width="3.8"/>
<line x1="1989" y1="467.8" x2="2009" y2="491.3" stroke="#4f8cc0" stroke-width="5.4"/>
<line x1="2009" y1="491.3" x2="2029" y2="514.8" stroke="#b8b400" stroke-width="5.4"/>
<line x1="1989" y1="467.8" x2="2009" y2="491.3" stroke="#6aaedc" stroke-width="3.8"/>
<line x1="2009" y1="491.3" x2="2029" y2="514.8" stroke="#e4e400" stroke-width="3.8"/>
<line x1="1820.9" y1="364" x2="1820.9" y2="505" stroke="#000" stroke-width="2.3"/>
<line x1="1926.8" y1="366.6" x2="1926.8" y2="506" stroke="#000" stroke-width="2.3"/>
<line x1="1893.2" y1="364" x2="1893.2" y2="436" stroke="#000" stroke-width="2.3"/>
<circle cx="1741.4" cy="412.4" r="13.6" fill="url(#gY)" stroke="#a8a000" stroke-width="0.6"/>
<circle cx="1813.6" cy="514.3" r="13.6" fill="url(#gY)" stroke="#a8a000" stroke-width="0.6"/>
<circle cx="1773.7" cy="467.8" r="19.6" fill="url(#gB)" stroke="#4a82b0" stroke-width="0.7"/>
<circle cx="1845.9" cy="416.4" r="13.6" fill="url(#gY)" stroke="#a8a000" stroke-width="0.6"/>
<circle cx="1917.6" cy="516" r="13.6" fill="url(#gY)" stroke="#a8a000" stroke-width="0.6"/>
<circle cx="1885.4" cy="463.8" r="19.6" fill="url(#gB)" stroke="#4a82b0" stroke-width="0.7"/>
<circle cx="1956.8" cy="413.4" r="13.6" fill="url(#gY)" stroke="#a8a000" stroke-width="0.6"/>
<circle cx="2029" cy="514.8" r="13.6" fill="url(#gY)" stroke="#a8a000" stroke-width="0.6"/>
<circle cx="1989" cy="467.8" r="19.6" fill="url(#gB)" stroke="#4a82b0" stroke-width="0.7"/>
<circle cx="1820" cy="345.6" r="21.4" fill="#4e8c44"/>
<circle cx="1832.2" cy="343.3" r="21.4" fill="#4e8c44"/>
<circle cx="1844.4" cy="341.4" r="21.4" fill="#4e8c44"/>
<circle cx="1856.7" cy="340.8" r="21.4" fill="#4e8c44"/>
<circle cx="1868.9" cy="341.2" r="21.4" fill="#4e8c44"/>
<circle cx="1880.6" cy="342.4" r="21.4" fill="#4e8c44"/>
<circle cx="1891.5" cy="343.6" r="21.4" fill="#4e8c44"/>
<clipPath id="cp14"><path d="M1758.8,284.4 L1815.49,284.4 L1838.57,406.8 L1758.8,406.8Z"/></clipPath>
<circle cx="1820" cy="345.6" r="20.4" fill="url(#gGs2)" clip-path="url(#cp14)"/>
<clipPath id="cp15"><path d="M1813.63,282.1 L1829.63,282.1 L1848.69,404.5 L1836.71,404.5Z"/></clipPath>
<circle cx="1832.2" cy="343.3" r="20.4" fill="url(#gGs2)" clip-path="url(#cp15)"/>
<clipPath id="cp16"><path d="M1827.91,280.2 L1848.28,280.2 L1854.25,402.6 L1846.97,402.6Z"/></clipPath>
<circle cx="1844.4" cy="341.4" r="20.4" fill="url(#gGs2)" clip-path="url(#cp16)"/>
<clipPath id="cp17"><path d="M1846.85,279.6 L1865.51,279.6 L1861.5,402 L1852.82,402Z"/></clipPath>
<circle cx="1856.7" cy="340.8" r="20.4" fill="url(#gGs2)" clip-path="url(#cp17)"/>
<clipPath id="cp18"><path d="M1864.1,280 L1881.79,280 L1869.24,402.4 L1860.09,402.4Z"/></clipPath>
<circle cx="1868.9" cy="341.2" r="20.4" fill="url(#gGs2)" clip-path="url(#cp18)"/>
<clipPath id="cp19"><path d="M1880.26,281.2 L1893.56,281.2 L1880.08,403.6 L1867.71,403.6Z"/></clipPath>
<circle cx="1880.6" cy="342.4" r="20.4" fill="url(#gGs2)" clip-path="url(#cp19)"/>
<clipPath id="cp20"><path d="M1892.02,282.4 L1952.7,282.4 L1952.7,404.8 L1878.54,404.8Z"/></clipPath>
<circle cx="1891.5" cy="343.6" r="20.4" fill="url(#gGs2)" clip-path="url(#cp20)"/>
<line x1="1822.5" y1="325.35" x2="1829.7" y2="363.55" stroke="#5a9a4f" stroke-width="1.6" stroke-opacity="0.15"/>
<line x1="1835.31" y1="323.14" x2="1841.29" y2="361.56" stroke="#5a9a4f" stroke-width="1.6" stroke-opacity="0.15"/>
<line x1="1849.6" y1="321.67" x2="1851.5" y2="360.53" stroke="#5a9a4f" stroke-width="1.6" stroke-opacity="0.15"/>
<line x1="1863.44" y1="321.54" x2="1862.16" y2="360.46" stroke="#5a9a4f" stroke-width="1.6" stroke-opacity="0.15"/>
<line x1="1876.74" y1="322.37" x2="1872.76" y2="361.23" stroke="#5a9a4f" stroke-width="1.6" stroke-opacity="0.15"/>
<line x1="1888.2" y1="323.47" x2="1883.9" y2="362.53" stroke="#5a9a4f" stroke-width="1.6" stroke-opacity="0.15"/>
<circle cx="1900.6" cy="344.6" r="20.4" fill="url(#gGd)" stroke="#4a8442" stroke-width="1.0"/>
<circle cx="1905.7" cy="345.4" r="20.4" fill="url(#gGd)" stroke="#4a8442" stroke-width="1.0"/>
<circle cx="1910.8" cy="346.2" r="20.4" fill="url(#gGd)" stroke="#4a8442" stroke-width="1.0"/>
<circle cx="1915.9" cy="347" r="20.4" fill="url(#gGd)" stroke="#4a8442" stroke-width="1.0"/>
<circle cx="1920.5" cy="347.8" r="20.4" fill="url(#gGd)" stroke="#4a8442" stroke-width="1.0"/>
<circle cx="1925" cy="349.6" r="20.4" fill="url(#gGs2)" stroke="#4e8c44" stroke-width="1.0"/>
<text x="1777.6" y="354.5" font-size="28.5" font-family="'Liberation Serif', 'Times New Roman', serif" font-weight="bold">H</text>
<text x="1896.9" y="392.2" font-size="28.5" font-family="'Liberation Serif', 'Times New Roman', serif" font-weight="bold">T</text>
<text x="1946.3" y="367.7" font-size="28.5" font-family="'Liberation Serif', 'Times New Roman', serif" font-weight="bold">H</text>
</svg>
</body></html>
